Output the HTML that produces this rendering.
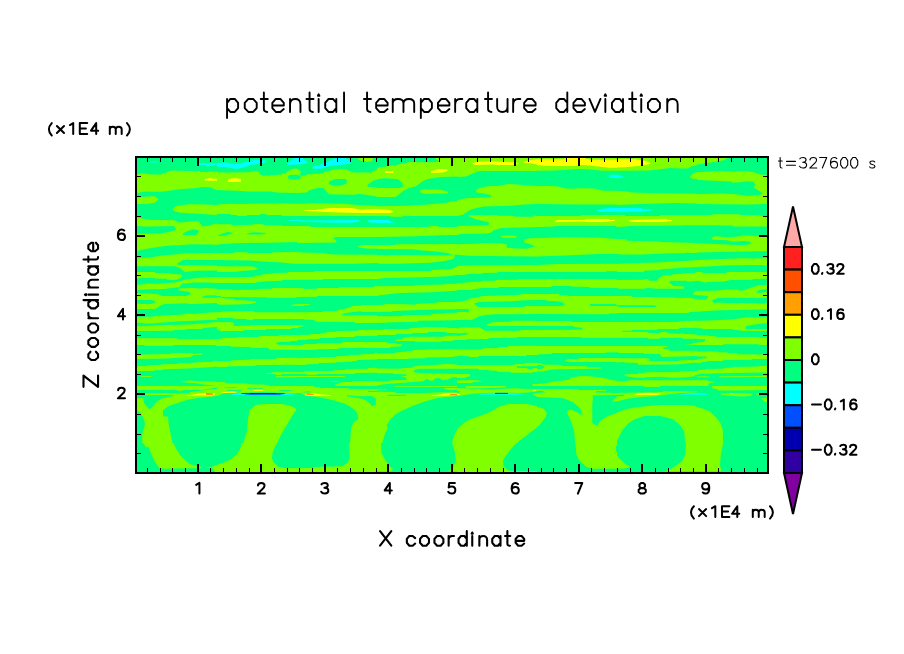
<!DOCTYPE html>
<html><head><meta charset="utf-8"><style>
html,body{margin:0;padding:0;background:#fff;width:904px;height:654px;overflow:hidden}
svg{display:block}
</style></head><body>
<svg width="904" height="654" viewBox="0 0 904 654">
<rect x="137" y="158" width="630" height="314" fill="#00ff80"/>
<svg x="137" y="158" width="630" height="314" viewBox="137 158 630 314" overflow="hidden"><defs>
<clipPath id="t00"><rect x="137" y="158" width="80" height="57"/></clipPath>
<clipPath id="t01"><rect x="217" y="158" width="80" height="57"/></clipPath>
<clipPath id="t02"><rect x="297" y="158" width="80" height="57"/></clipPath>
<clipPath id="t03"><rect x="377" y="158" width="80" height="57"/></clipPath>
<clipPath id="t04"><rect x="457" y="158" width="80" height="57"/></clipPath>
<clipPath id="t05"><rect x="537" y="158" width="80" height="57"/></clipPath>
<clipPath id="t06"><rect x="617" y="158" width="80" height="57"/></clipPath>
<clipPath id="t07"><rect x="697" y="158" width="80" height="57"/></clipPath>
<clipPath id="t10"><rect x="137" y="215" width="80" height="57"/></clipPath>
<clipPath id="t11"><rect x="217" y="215" width="80" height="57"/></clipPath>
<clipPath id="t12"><rect x="297" y="215" width="80" height="57"/></clipPath>
<clipPath id="t13"><rect x="377" y="215" width="80" height="57"/></clipPath>
<clipPath id="t14"><rect x="457" y="215" width="80" height="57"/></clipPath>
<clipPath id="t15"><rect x="537" y="215" width="80" height="57"/></clipPath>
<clipPath id="t16"><rect x="617" y="215" width="80" height="57"/></clipPath>
<clipPath id="t17"><rect x="697" y="215" width="80" height="57"/></clipPath>
<clipPath id="t20"><rect x="137" y="272" width="80" height="57"/></clipPath>
<clipPath id="t21"><rect x="217" y="272" width="80" height="57"/></clipPath>
<clipPath id="t22"><rect x="297" y="272" width="80" height="57"/></clipPath>
<clipPath id="t23"><rect x="377" y="272" width="80" height="57"/></clipPath>
<clipPath id="t24"><rect x="457" y="272" width="80" height="57"/></clipPath>
<clipPath id="t25"><rect x="537" y="272" width="80" height="57"/></clipPath>
<clipPath id="t26"><rect x="617" y="272" width="80" height="57"/></clipPath>
<clipPath id="t27"><rect x="697" y="272" width="80" height="57"/></clipPath>
<clipPath id="t30"><rect x="137" y="329" width="80" height="57"/></clipPath>
<clipPath id="t31"><rect x="217" y="329" width="80" height="57"/></clipPath>
<clipPath id="t32"><rect x="297" y="329" width="80" height="57"/></clipPath>
<clipPath id="t33"><rect x="377" y="329" width="80" height="57"/></clipPath>
<clipPath id="t34"><rect x="457" y="329" width="80" height="57"/></clipPath>
<clipPath id="t35"><rect x="537" y="329" width="80" height="57"/></clipPath>
<clipPath id="t36"><rect x="617" y="329" width="80" height="57"/></clipPath>
<clipPath id="t37"><rect x="697" y="329" width="80" height="57"/></clipPath>
<clipPath id="t40"><rect x="137" y="386" width="80" height="57"/></clipPath>
<clipPath id="t41"><rect x="217" y="386" width="80" height="57"/></clipPath>
<clipPath id="t42"><rect x="297" y="386" width="80" height="57"/></clipPath>
<clipPath id="t43"><rect x="377" y="386" width="80" height="57"/></clipPath>
<clipPath id="t44"><rect x="457" y="386" width="80" height="57"/></clipPath>
<clipPath id="t45"><rect x="537" y="386" width="80" height="57"/></clipPath>
<clipPath id="t46"><rect x="617" y="386" width="80" height="57"/></clipPath>
<clipPath id="t47"><rect x="697" y="386" width="80" height="57"/></clipPath>
<clipPath id="t50"><rect x="137" y="443" width="80" height="57"/></clipPath>
<clipPath id="t51"><rect x="217" y="443" width="80" height="57"/></clipPath>
<clipPath id="t52"><rect x="297" y="443" width="80" height="57"/></clipPath>
<clipPath id="t53"><rect x="377" y="443" width="80" height="57"/></clipPath>
<clipPath id="t54"><rect x="457" y="443" width="80" height="57"/></clipPath>
<clipPath id="t55"><rect x="537" y="443" width="80" height="57"/></clipPath>
<clipPath id="t56"><rect x="617" y="443" width="80" height="57"/></clipPath>
<clipPath id="t57"><rect x="697" y="443" width="80" height="57"/></clipPath>
</defs>
<g clip-path="url(#t00)"><rect x="137" y="158" width="80" height="57" fill="#00ff80"/><polygon points="137.0,174.4 142.3,173.2 145.0,173.5 151.2,174.6 160.9,174.4 167.1,172.2 169.7,171.1 174.2,170.4 176.8,170.8 198.9,171.3 200.7,171.9 217.0,171.7 217.0,189.9 214.9,189.4 210.5,187.2 202.5,187.0 196.3,188.1 179.5,189.2 170.6,190.6 163.5,191.6 155.6,191.8 147.6,191.6 142.3,192.1 137.0,193.0" fill="#80ff00"/><polygon points="204.3,179.2 207.8,178.5 210.5,178.0 213.1,178.8 217.0,178.8 217.0,180.8 205.1,180.8" fill="#ffff00"/><polygon points="149.4,162.0 152.9,161.2 157.8,161.2 157.8,162.4 150.3,162.6" fill="#00ffff"/><polygon points="194.1,163.3 198.9,163.1 206.0,163.5 212.2,163.1 217.0,162.9 217.0,164.6 212.2,165.5 206.9,166.8 206.0,165.1 198.9,165.1 196.3,164.6" fill="#00ffff"/><polygon points="137.0,197.4 151.2,196.2 154.7,196.2 158.7,199.2 154.7,202.7 147.6,203.8 137.0,204.0" fill="#80ff00"/><polygon points="172.4,209.3 175.1,206.5 180.4,205.3 190.1,204.2 198.9,204.2 217.0,204.9 217.0,215.0 198.9,213.8 180.4,212.7 175.1,211.5" fill="#80ff00"/></g>
<g clip-path="url(#t01)"><rect x="217" y="158" width="80" height="57" fill="#00ff80"/><polygon points="217.0,172.2 225.8,172.6 249.7,172.3 253.3,171.3 258.6,171.3 260.4,174.8 263.0,175.7 269.2,175.5 280.7,174.4 286.9,172.2 291.3,169.1 297.0,168.6 297.0,193.0 276.3,192.5 270.1,191.6 247.1,191.5 237.4,190.7 227.6,190.6 217.0,189.9" fill="#80ff00"/><polygon points="287.8,175.7 291.3,174.8 297.0,174.8 297.0,179.7 288.7,179.2" fill="#00ff80"/><polygon points="228.1,179.2 231.2,178.4 236.5,178.2 240.9,179.1 240.9,181.9 228.1,181.9" fill="#ffff00"/><polygon points="217.0,162.9 224.1,162.2 230.3,163.3 235.6,164.0 243.5,162.4 250.6,160.7 254.2,159.8 263.9,160.2 267.0,161.1 263.9,162.9 256.8,164.0 250.6,165.1 243.5,167.3 239.1,168.6 234.7,168.8 227.6,167.3 217.0,166.8" fill="#00ffff"/><polygon points="286.9,163.8 290.5,160.7 294.0,158.0 297.0,158.0 297.0,164.6 287.8,164.9" fill="#00ffff"/><polygon points="217.0,204.5 230.3,203.8 237.4,204.0 263.0,203.6 276.3,203.6 297.0,203.8 297.0,216.4 266.6,216.4 266.1,213.9 260.4,213.9 259.9,216.4 231.2,216.4 230.7,213.9 217.0,213.9" fill="#80ff00"/></g>
<g clip-path="url(#t02)"><rect x="297" y="158" width="80" height="57" fill="#00ff80"/><polygon points="297.0,158.0 302.3,158.0 306.7,161.5 307.6,162.9 302.3,164.2 297.0,164.6" fill="#00ffff"/><polygon points="312.9,166.4 319.1,165.1 326.2,162.0 332.4,159.3 335.9,158.0 344.8,158.0 350.1,160.7 351.0,163.8 339.5,164.9 331.5,165.8 324.4,167.6 321.8,168.8 312.9,168.8" fill="#00ffff"/><polygon points="358.1,158.0 373.1,158.0 372.2,160.7 367.8,162.0 361.6,161.1 358.9,159.8" fill="#80ff00"/><polygon points="297.0,168.6 301.0,171.7 299.7,174.8 302.3,176.1 307.6,174.4 320.0,173.5 328.0,171.3 335.9,169.3 344.8,169.3 353.6,172.6 371.3,172.6 377.0,169.1 377.0,196.9 374.0,196.1 362.5,194.3 358.9,194.1 353.6,194.7 328.9,194.3 323.5,188.1 317.4,188.1 309.4,190.3 306.7,192.5 297.0,193.0" fill="#80ff00"/><polygon points="297.0,174.8 301.4,176.1 299.2,179.2 297.0,179.7" fill="#00ff80"/><polygon points="328.9,181.9 332.4,180.1 335.9,179.1 345.7,179.1 347.0,181.0 346.1,183.7 341.2,185.4 332.4,185.4 328.9,184.1" fill="#00ff80"/><polygon points="366.9,185.4 371.3,181.9 374.9,180.1 377.0,179.7 377.0,187.2 367.8,186.8" fill="#00ff80"/><polygon points="297.0,204.0 313.8,203.3 326.2,203.3 346.6,204.0 358.9,204.9 377.0,205.8 377.0,215.0 297.0,215.0" fill="#80ff00"/><polygon points="304.1,210.4 317.4,209.8 320.0,209.2 329.7,208.0 351.9,208.0 360.7,209.8 377.0,208.9 377.0,213.0 360.7,213.0 338.6,212.4 317.4,211.6 304.1,211.1" fill="#ffff00"/></g>
<g clip-path="url(#t03)"><rect x="377" y="158" width="80" height="57" fill="#80ff00"/><polygon points="377.0,158.0 435.4,158.0 438.9,162.0 424.8,162.2 410.6,162.0 403.5,163.3 396.5,165.1 385.8,166.4 377.0,167.7" fill="#00ff80"/><polygon points="385.0,171.3 393.8,171.1 392.9,172.9 385.0,172.9" fill="#ffff00"/><polygon points="431.0,171.3 438.1,169.3 446.9,169.1 447.8,170.8 442.5,172.6 431.0,172.9" fill="#ffff00"/><polygon points="377.0,179.2 384.1,178.2 392.9,178.8 398.2,179.2 402.7,183.2 402.7,186.8 400.0,188.1 377.0,188.1" fill="#00ff80"/><polygon points="377.0,196.9 395.6,196.9 403.5,190.7 408.9,188.1 415.9,186.3 421.2,182.3 426.6,179.2 440.7,177.0 457.0,176.6 457.0,201.4 452.2,201.4 444.3,203.1 428.3,204.5 408.9,205.8 377.0,206.2" fill="#00ff80"/><polygon points="420.4,190.3 424.8,189.2 437.2,189.2 444.3,190.7 448.7,192.1 446.9,193.4 423.9,193.8 420.4,192.5" fill="#80ff00"/><polygon points="377.0,209.2 379.7,209.3 390.3,210.2 393.8,211.5 390.3,212.9 377.0,212.9" fill="#ffff00"/></g>
<g clip-path="url(#t04)"><rect x="457" y="158" width="80" height="57" fill="#80ff00"/><polygon points="472.0,163.3 477.4,161.7 492.4,161.4 497.7,161.5 514.5,162.2 519.8,163.3 514.5,164.9 497.7,164.9 492.4,164.4 474.7,164.9" fill="#ffff00"/><polygon points="524.3,161.4 530.5,160.2 537.0,158.9 537.0,164.6 530.5,163.3 524.3,162.9" fill="#ffff00"/><polygon points="457.0,177.0 465.8,176.6 470.3,174.4 479.1,171.1 537.0,171.1 537.0,185.9 527.8,185.6 517.2,184.5 508.3,184.1 497.7,185.9 488.9,186.1 479.1,188.1 476.0,190.7 476.5,192.5 483.5,193.4 491.1,195.2 490.6,196.9 485.3,197.4 465.8,198.3 457.0,200.0" fill="#00ff80"/><polygon points="457.0,215.0 462.3,215.0 471.2,209.2 483.5,206.5 510.1,205.8 524.3,204.5 537.0,204.0 537.0,215.0" fill="#00ff80"/></g>
<g clip-path="url(#t05)"><rect x="537" y="158" width="80" height="57" fill="#00ff80"/><polygon points="537.0,158.0 617.0,158.0 617.0,170.8 603.4,170.8 590.1,169.5 577.7,169.1 554.7,170.4 537.0,170.8" fill="#80ff00"/><polygon points="537.0,158.9 563.5,158.9 568.0,158.0 584.8,158.0 586.6,158.9 594.5,159.8 617.0,159.8 617.0,167.7 609.6,167.7 600.7,166.8 590.1,165.5 581.2,165.1 574.2,166.1 545.8,166.0 537.0,164.9" fill="#ffff00"/><polygon points="608.7,176.1 610.5,174.8 617.0,174.8 617.0,177.9 609.6,177.9" fill="#00ffff"/><polygon points="537.0,186.1 554.7,186.1 568.0,188.8 581.2,188.3 593.6,188.5 603.4,190.7 617.0,190.7 617.0,204.5 582.1,204.5 537.0,204.0" fill="#80ff00"/><polygon points="597.2,210.2 600.7,208.9 609.6,208.0 617.0,208.0 617.0,211.8 598.1,211.8" fill="#00ffff"/></g>
<g clip-path="url(#t06)"><rect x="617" y="158" width="80" height="57" fill="#00ff80"/><polygon points="617.0,158.0 697.0,158.0 697.0,165.1 691.3,166.4 687.8,168.6 682.5,168.6 670.1,167.9 659.5,169.3 648.0,170.4 617.0,170.8" fill="#80ff00"/><polygon points="617.0,158.9 634.7,158.9 646.2,161.1 650.6,163.3 648.0,164.6 638.2,166.0 625.0,167.3 617.0,167.6" fill="#ffff00"/><polygon points="617.0,174.8 618.8,175.3 623.2,176.4 623.6,177.6 617.0,177.9" fill="#00ffff"/><polygon points="690.0,176.6 693.1,173.5 695.8,172.2 697.0,172.0 697.0,178.8 692.2,178.8" fill="#80ff00"/><polygon points="617.0,190.9 625.0,191.2 632.0,192.5 659.5,193.2 697.0,193.8 697.0,203.6 673.6,203.1 640.0,204.0 617.0,204.9" fill="#80ff00"/><polygon points="617.0,208.0 640.9,208.0 641.8,209.2 652.0,209.2 650.6,210.7 640.9,211.8 617.0,211.8" fill="#00ffff"/></g>
<g clip-path="url(#t07)"><rect x="697" y="158" width="80" height="57" fill="#00ff80"/><polygon points="697.0,158.0 727.1,158.0 723.5,160.2 714.7,162.0 705.8,163.3 697.0,164.6" fill="#80ff00"/><polygon points="697.0,172.2 718.2,171.3 727.1,171.7 746.6,171.3 753.6,172.2 760.7,174.4 767.8,175.3 767.8,204.0 749.2,204.5 697.0,204.0" fill="#80ff00"/><polygon points="697.0,179.7 707.6,180.6 730.6,181.5 733.3,182.8 739.5,182.3 746.6,181.2 753.6,181.7 755.4,184.5 753.6,187.6 758.9,190.7 762.9,193.4 758.9,195.2 746.6,195.9 736.8,194.3 721.8,193.4 697.0,194.3" fill="#00ff80"/><polygon points="711.2,215.0 712.9,214.2 739.5,214.2 740.4,215.0" fill="#80ff00"/></g>
<g clip-path="url(#t10)"><rect x="137" y="215" width="80" height="57" fill="#00ff80"/><polygon points="137.0,217.7 145.0,219.0 151.2,219.9 174.2,220.3 178.6,222.5 186.6,222.1 193.6,221.2 198.9,221.6 201.2,224.7 202.5,226.5 206.9,226.1 214.9,223.8 217.0,223.4 217.0,245.1 212.2,244.6 191.9,244.2 183.0,245.1 170.6,245.5 160.9,246.4 150.3,248.2 145.0,249.1 140.5,250.0 137.0,251.3" fill="#80ff00"/><polygon points="137.0,226.1 145.0,226.5 163.5,226.3 174.2,226.1 175.9,228.7 174.2,230.5 170.6,231.6 160.9,233.6 137.0,234.0" fill="#00ff80"/><polygon points="183.0,233.6 186.6,231.4 193.6,229.2 198.9,230.5 198.1,232.7 195.4,234.9 183.0,234.9" fill="#00ff80"/><polygon points="137.0,258.4 150.3,257.5 163.5,255.3 174.2,254.4 186.6,253.2 217.0,253.1 217.0,270.6 195.4,270.8 184.8,272.0 179.5,267.7 174.2,266.2 137.0,266.2" fill="#80ff00"/><polygon points="176.8,263.7 183.0,260.1 217.0,260.1 217.0,265.6 178.6,265.0" fill="#00ff80"/></g>
<g clip-path="url(#t11)"><rect x="217" y="215" width="80" height="57" fill="#00ff80"/><polygon points="237.4,215.0 247.1,215.0 247.1,215.9 237.4,215.9" fill="#80ff00"/><polygon points="282.0,215.0 297.0,215.0 297.0,215.9 282.0,215.9" fill="#80ff00"/><polygon points="289.1,220.1 297.0,220.1 297.0,221.0 289.1,221.0" fill="#00ffff"/><polygon points="217.0,224.3 231.2,224.3 232.0,225.2 253.3,224.7 254.2,224.0 263.0,224.3 263.9,225.2 281.6,225.4 282.5,226.1 297.0,226.1 297.0,242.0 278.9,242.4 234.7,243.3 217.0,244.6" fill="#80ff00"/><polygon points="217.9,235.5 221.0,234.0 224.1,233.1 228.5,231.8 233.8,233.4 228.5,234.6 225.0,235.8 217.9,236.1" fill="#00ff80"/><polygon points="246.2,233.6 249.7,233.1 253.3,232.3 259.5,232.5 266.1,233.1 265.7,234.0 259.5,234.5 249.7,234.6 246.2,234.0" fill="#00ff80"/><polygon points="217.0,253.1 233.8,252.9 234.7,252.2 247.1,252.2 248.0,253.1 271.9,253.1 272.8,252.2 297.0,252.0 297.0,263.7 291.3,263.5 282.5,262.6 263.0,261.5 250.6,260.6 217.0,260.1" fill="#80ff00"/><polygon points="217.0,266.2 252.4,266.2 256.4,267.7 257.7,268.5 255.1,270.0 240.9,270.9 234.7,272.0 217.0,272.0" fill="#80ff00"/></g>
<g clip-path="url(#t12)"><rect x="297" y="215" width="80" height="57" fill="#00ff80"/><polygon points="297.0,215.0 377.0,215.0 377.0,215.9 297.0,215.9" fill="#80ff00"/><polygon points="297.0,220.1 306.7,220.5 335.9,220.3 358.9,220.1 359.8,221.4 351.9,222.8 335.9,222.8 306.7,221.9 297.0,221.0" fill="#00ffff"/><polygon points="366.9,221.4 368.7,220.1 377.0,220.1 377.0,222.8 371.3,222.8" fill="#00ffff"/><polygon points="297.0,226.1 310.3,226.3 311.2,226.9 377.0,226.9 377.0,236.9 335.9,236.9 333.3,238.2 336.8,241.4 335.9,242.6 297.0,242.9" fill="#80ff00"/><polygon points="358.1,246.4 361.6,245.1 377.0,245.1 377.0,248.6 368.7,248.8 359.8,247.7" fill="#80ff00"/><polygon points="297.0,252.3 320.0,253.1 333.3,254.4 377.0,254.8 377.0,263.0 351.9,263.7 297.0,263.8" fill="#80ff00"/><polygon points="314.3,272.0 314.7,270.9 377.0,270.9 377.0,272.0" fill="#80ff00"/></g>
<g clip-path="url(#t13)"><rect x="377" y="215" width="80" height="57" fill="#00ff80"/><polygon points="377.0,215.0 457.0,215.0 457.0,215.9 402.7,215.9 402.7,216.8 390.3,216.8 390.3,215.9 377.0,215.9" fill="#80ff00"/><polygon points="377.0,220.1 388.5,220.1 390.3,221.6 392.9,222.1 392.9,223.0 377.0,223.0" fill="#00ffff"/><polygon points="377.0,226.9 428.3,226.9 429.2,226.1 438.1,226.1 438.9,226.9 457.0,226.9 457.0,234.9 440.7,235.2 415.1,236.2 377.0,236.9" fill="#80ff00"/><polygon points="377.0,245.1 396.0,245.1 396.5,244.2 457.0,244.0 457.0,254.4 454.9,254.8 454.0,258.4 450.5,259.7 444.3,261.0 431.0,262.8 395.6,263.7 380.5,263.7 377.0,263.2" fill="#80ff00"/><polygon points="377.0,249.1 412.4,249.3 422.1,250.4 435.4,251.5 447.8,252.9 453.1,255.3 431.0,255.3 377.0,255.0" fill="#00ff80"/><polygon points="377.0,270.9 431.0,270.9 431.9,269.9 450.5,269.2 457.0,266.8 457.0,272.0 377.0,272.0" fill="#80ff00"/></g>
<g clip-path="url(#t14)"><rect x="457" y="215" width="80" height="57" fill="#00ff80"/><polygon points="468.5,215.0 497.7,215.0 497.7,215.7 514.5,215.9 514.5,216.8 533.1,216.8 533.1,215.7 537.0,215.7 537.0,226.9 519.8,227.4 501.2,228.1 494.2,230.0 490.6,232.7 485.3,233.4 460.5,234.0 457.0,234.9 457.0,226.1 485.3,225.6 488.9,224.7 488.9,222.5 485.3,221.6 476.5,219.4 469.4,216.8" fill="#80ff00"/><polygon points="457.0,215.0 459.7,215.0 459.7,215.7 457.0,215.7" fill="#80ff00"/><polygon points="499.9,236.4 503.9,235.5 511.0,235.4 517.2,236.4 515.4,237.8 503.9,237.8" fill="#80ff00"/><polygon points="457.0,244.2 479.1,243.8 480.0,243.1 501.2,243.3 506.6,244.6 506.6,247.7 514.5,248.6 526.9,248.8 534.9,246.4 530.5,244.2 524.3,242.4 524.3,239.3 530.5,238.2 537.0,238.0 537.0,256.6 511.0,256.2 469.4,255.7 457.0,254.8" fill="#80ff00"/><polygon points="457.0,265.9 469.4,265.4 537.0,265.0 537.0,272.0 457.0,272.0" fill="#80ff00"/></g>
<g clip-path="url(#t15)"><rect x="537" y="215" width="80" height="57" fill="#80ff00"/><polygon points="537.0,215.0 581.2,215.0 580.4,215.9 537.0,215.9" fill="#00ff80"/><polygon points="555.1,221.0 557.4,220.1 583.9,220.1 586.6,219.2 608.7,219.0 609.6,220.1 614.9,220.1 614.9,221.0 602.9,221.9 586.6,221.9 583.9,221.4 555.1,221.9" fill="#ffff00"/><polygon points="537.0,226.9 555.1,226.5 555.6,226.1 615.8,226.1 617.0,226.9 617.0,238.9 613.1,238.7 599.8,237.8 562.7,237.3 537.0,238.2" fill="#00ff80"/><polygon points="537.0,256.6 543.2,256.2 571.1,255.3 597.2,254.1 617.0,253.9 617.0,263.7 559.1,264.1 537.0,265.0" fill="#00ff80"/><polygon points="606.0,271.2 617.0,271.2 617.0,272.0 606.0,272.0" fill="#00ff80"/></g>
<g clip-path="url(#t16)"><rect x="617" y="215" width="80" height="57" fill="#80ff00"/><polygon points="625.0,215.0 660.4,215.0 659.5,215.9 625.0,215.9" fill="#00ff80"/><polygon points="628.9,220.5 632.0,220.1 654.2,219.4 666.6,219.0 667.4,220.1 671.9,220.1 671.9,221.0 663.0,221.9 632.0,221.9 628.9,221.0" fill="#ffff00"/><polygon points="617.0,226.9 627.6,226.5 628.1,226.1 682.9,225.6 683.4,225.2 697.0,225.2 697.0,243.1 678.9,242.6 660.4,242.0 659.5,241.4 626.7,240.8 625.8,239.3 617.0,238.9" fill="#00ff80"/><polygon points="617.0,253.9 622.3,254.4 640.9,254.4 670.1,253.2 686.0,252.9 687.8,252.2 689.1,252.9 697.0,252.9 697.0,260.1 692.2,260.6 672.8,261.5 657.3,262.6 625.4,263.2 617.0,264.1" fill="#00ff80"/><polygon points="643.5,272.0 644.0,270.8 659.5,269.9 660.4,269.2 672.8,268.5 683.4,267.4 697.0,267.0 697.0,272.0" fill="#00ff80"/></g>
<g clip-path="url(#t17)"><rect x="697" y="215" width="80" height="57" fill="#80ff00"/><polygon points="758.9,215.0 767.8,215.0 767.8,216.8 762.5,216.3" fill="#00ff80"/><polygon points="697.0,225.2 718.2,225.2 723.5,225.6 732.4,225.4 733.3,226.5 767.8,226.5 767.8,236.2 758.9,236.2 750.1,235.8 743.0,235.5 736.8,236.7 727.1,236.9 714.7,236.2 711.2,238.0 712.9,239.8 727.1,240.2 730.6,241.5 736.8,241.5 743.0,241.1 749.2,241.5 751.9,243.3 745.7,244.9 737.7,245.1 711.2,243.8 697.0,243.1" fill="#00ff80"/><polygon points="697.0,252.6 755.4,251.3 767.8,251.1 767.8,258.2 756.3,258.4 742.1,258.2 714.7,259.2 697.0,260.1" fill="#00ff80"/><polygon points="697.0,272.0 697.0,267.0 711.2,266.3 729.7,265.3 761.6,265.0 767.8,265.9 767.8,272.0" fill="#00ff80"/></g>
<g clip-path="url(#t20)"><rect x="137" y="272" width="80" height="57" fill="#00ff80"/><polygon points="137.0,272.0 155.0,272.0 155.0,272.9 171.1,273.2 171.1,273.9 181.0,274.4 181.9,275.7 181.6,277.3 179.7,278.2 176.6,279.8 167.4,280.0 166.7,278.8 155.0,278.5 154.3,277.9 138.9,277.9 138.2,278.8 137.0,278.8" fill="#80ff00"/><polygon points="137.0,285.0 142.0,284.4 148.2,283.5 155.0,283.8 167.4,283.2 175.4,282.2 182.8,280.4 186.6,279.3 193.6,278.4 202.5,277.5 214.9,277.1 217.0,276.9 217.0,283.1 206.9,282.6 193.6,282.4 185.9,283.5 182.8,283.2 180.4,285.6 179.7,286.9 171.7,288.1 164.3,289.1 158.1,289.3 148.2,289.3 137.0,290.0" fill="#80ff00"/><polygon points="137.0,293.7 138.9,293.1 158.1,294.3 161.8,295.9 185.9,295.9 190.9,294.3 189.0,291.8 185.9,291.5 180.4,290.6 177.9,290.2 177.3,289.7 180.4,288.2 193.0,288.0 198.9,288.4 206.0,288.1 217.0,288.8 217.0,303.0 193.0,303.9 190.3,303.9 185.9,303.3 164.3,303.9 160.5,305.5 158.1,307.3 155.0,308.9 137.0,308.9" fill="#80ff00"/><polygon points="137.0,299.9 151.0,300.1 155.0,301.1 155.0,302.7 150.6,303.9 138.9,303.9 137.0,303.3" fill="#00ff80"/><polygon points="202.0,296.8 206.0,295.5 214.9,295.2 217.0,295.9 217.0,297.7 212.2,297.8 202.5,297.8" fill="#00ff80"/><polygon points="137.0,317.1 150.3,316.7 163.5,315.4 183.0,314.5 186.6,313.4 194.5,314.0 206.0,312.7 217.0,312.3 217.0,319.8 202.5,320.2 193.6,320.7 176.8,321.6 163.5,322.4 154.7,323.3 145.0,323.5 139.7,322.6 137.0,322.9" fill="#80ff00"/><polygon points="137.0,326.0 145.8,326.2 163.5,325.1 177.7,324.7 193.6,324.2 202.5,323.3 212.2,322.6 217.0,322.0 217.0,326.9 202.5,327.9 202.5,329.0 137.0,329.0" fill="#80ff00"/></g>
<g clip-path="url(#t21)"><rect x="217" y="272" width="80" height="57" fill="#00ff80"/><polygon points="217.0,277.1 253.3,276.9 253.3,276.0 260.4,275.5 263.0,274.2 271.9,273.8 272.8,272.9 287.8,272.7 288.7,272.0 297.0,272.0 297.0,279.8 282.5,280.1 281.6,280.8 266.1,281.3 256.8,282.2 255.9,283.1 217.0,283.1" fill="#80ff00"/><polygon points="217.0,289.3 231.2,289.3 231.6,290.1 255.9,289.7 256.8,289.0 271.9,288.8 272.8,288.1 297.0,287.9 297.0,297.2 294.9,297.7 266.6,297.8 265.7,297.2 221.4,297.0 220.5,296.1 217.0,295.9" fill="#80ff00"/><polygon points="217.0,297.2 220.5,297.5 225.0,298.5 233.8,299.0 234.7,300.1 247.1,300.5 255.9,301.2 255.9,302.8 249.7,303.9 233.8,304.6 221.4,304.7 217.0,304.0" fill="#80ff00"/><polygon points="291.3,305.2 294.9,304.3 297.0,304.0 297.0,306.1 291.3,306.1" fill="#80ff00"/><polygon points="217.0,312.3 225.0,311.4 253.3,311.1 254.2,312.3 297.0,312.3 297.0,318.9 253.3,318.9 252.4,320.0 247.1,319.8 246.2,319.1 233.8,318.7 232.9,318.0 217.0,317.8" fill="#80ff00"/><polygon points="217.0,322.0 232.9,322.3 233.8,323.8 233.8,326.0 249.7,325.5 250.6,324.9 297.0,324.9 297.0,327.9 291.3,327.9 291.3,329.0 217.0,329.0" fill="#80ff00"/></g>
<g clip-path="url(#t22)"><rect x="297" y="272" width="80" height="57" fill="#00ff80"/><polygon points="297.0,272.0 377.0,272.0 377.0,278.9 323.5,278.9 322.7,279.8 297.0,279.8" fill="#80ff00"/><polygon points="297.0,287.9 304.1,288.4 304.1,289.0 317.4,288.8 317.4,288.1 339.0,287.9 339.5,287.2 374.0,286.9 374.9,286.0 377.0,285.7 377.0,295.9 317.4,296.1 316.9,296.8 297.0,297.0" fill="#80ff00"/><polygon points="297.0,304.3 309.4,304.0 309.8,304.9 304.1,305.2 303.6,306.1 297.0,306.1" fill="#80ff00"/><polygon points="297.0,312.3 322.7,312.0 323.5,311.1 335.9,310.9 339.5,309.6 344.8,308.7 349.2,307.4 352.8,306.1 360.7,305.8 361.6,304.9 377.0,304.9 377.0,322.9 355.4,322.9 354.5,322.0 316.5,321.7 314.7,320.5 312.9,319.8 304.1,319.6 303.2,318.9 297.0,318.9" fill="#80ff00"/><polygon points="342.1,314.5 344.8,313.2 349.2,312.5 358.1,311.4 360.7,310.9 361.6,312.0 377.0,312.0 377.0,315.2 342.1,315.2" fill="#00ff80"/><polygon points="297.0,325.5 300.5,325.3 304.1,325.1 303.6,326.0 298.8,327.3 297.0,328.6" fill="#80ff00"/></g>
<g clip-path="url(#t23)"><rect x="377" y="272" width="80" height="57" fill="#00ff80"/><polygon points="377.0,272.0 457.0,272.0 457.0,275.1 454.0,275.4 446.9,276.2 431.0,277.1 384.1,278.0 377.0,278.9" fill="#80ff00"/><polygon points="377.0,286.2 415.1,285.7 415.9,285.1 444.3,284.6 445.1,283.9 457.0,283.7 457.0,290.8 446.9,291.3 431.0,292.2 400.0,293.1 390.3,294.1 379.7,295.2 377.0,295.9" fill="#80ff00"/><polygon points="377.0,304.9 384.1,304.7 385.0,304.0 406.2,304.3 415.1,304.7 415.9,304.0 428.3,303.2 438.1,302.5 438.9,302.1 457.0,302.1 457.0,309.2 434.5,309.6 412.4,310.2 392.9,310.9 392.0,311.8 377.0,312.0" fill="#80ff00"/><polygon points="377.0,316.2 402.7,316.1 403.5,315.2 431.0,314.7 431.9,314.0 444.3,313.4 445.1,312.9 457.0,312.7 457.0,319.8 454.0,320.2 418.6,320.8 417.7,321.7 395.6,322.3 377.0,322.9" fill="#80ff00"/><polygon points="408.9,329.0 409.3,328.2 422.1,327.6 423.0,327.0 446.9,327.3 447.8,327.9 457.0,327.9 457.0,329.0" fill="#80ff00"/></g>
<g clip-path="url(#t24)"><rect x="457" y="272" width="80" height="57" fill="#00ff80"/><polygon points="457.0,272.0 497.7,272.0 497.7,272.7 481.8,273.1 481.8,273.8 466.7,273.9 466.7,274.8 457.0,275.1" fill="#80ff00"/><polygon points="457.0,283.1 467.6,282.6 468.5,282.2 481.8,281.6 482.7,280.8 495.1,280.7 495.9,280.0 517.2,279.8 518.1,278.9 537.0,278.9 537.0,286.9 498.6,287.0 497.7,287.9 481.8,288.1 472.9,289.3 472.0,289.9 457.0,290.1" fill="#80ff00"/><polygon points="457.0,302.1 461.4,301.2 465.8,300.8 470.3,298.5 476.5,297.7 482.7,296.1 504.8,295.5 520.7,294.8 521.6,293.9 537.0,293.9 537.0,300.1 524.3,300.3 511.9,301.2 479.1,302.1 473.8,303.4 478.2,307.0 524.3,307.0 525.1,306.1 537.0,306.1 537.0,314.0 495.1,314.3 485.3,314.9 479.1,316.2 474.7,318.5 472.0,319.8 457.0,320.0" fill="#80ff00"/><polygon points="457.0,309.0 468.9,309.0 468.9,312.0 457.0,312.0" fill="#00ff80"/><polygon points="486.2,324.7 489.7,323.2 492.4,322.3 511.0,321.7 511.9,320.8 537.0,320.7 537.0,326.0 488.0,326.0" fill="#80ff00"/><polygon points="457.0,329.0 460.5,327.6 479.1,327.3 481.8,329.0" fill="#80ff00"/></g>
<g clip-path="url(#t25)"><rect x="537" y="272" width="80" height="57" fill="#00ff80"/><polygon points="537.0,279.1 615.8,278.9 617.0,279.8 617.0,287.9 590.1,287.8 589.2,286.9 571.5,286.6 570.6,286.0 552.0,286.0 551.2,286.9 537.0,286.9" fill="#80ff00"/><polygon points="537.0,294.1 558.7,294.1 559.6,295.2 568.0,295.2 568.9,295.9 617.0,295.9 617.0,313.6 609.1,313.4 608.7,314.3 537.0,314.0" fill="#80ff00"/><polygon points="537.0,300.1 545.8,300.1 546.7,300.8 558.2,301.2 562.7,302.5 564.9,304.6 562.7,305.5 561.8,306.1 537.0,306.1" fill="#00ff80"/><polygon points="590.1,304.0 615.8,304.0 617.0,304.9 617.0,306.1 590.1,306.1" fill="#00ff80"/><polygon points="537.0,321.1 570.6,321.1 571.5,322.0 617.0,322.0 617.0,329.0 583.0,329.0 582.1,327.8 574.2,326.9 573.3,326.0 537.0,326.0" fill="#80ff00"/></g>
<g clip-path="url(#t26)"><rect x="617" y="272" width="80" height="57" fill="#00ff80"/><polygon points="617.0,280.0 643.5,279.8 644.4,279.1 648.0,279.1 649.3,280.8 656.8,280.8 658.6,278.2 663.0,275.5 671.9,275.1 672.8,274.2 683.4,273.8 684.3,273.1 694.9,272.9 695.8,272.0 697.0,272.0 697.0,280.8 692.2,281.6 686.9,281.6 686.0,280.8 670.1,280.8 669.2,282.6 673.6,286.0 682.5,286.2 684.7,287.8 683.4,288.8 673.6,288.8 656.8,288.8 648.0,287.9 643.5,288.8 618.8,288.8 617.0,287.9" fill="#80ff00"/><polygon points="693.1,294.1 694.9,291.5 697.0,290.8 697.0,294.8 693.1,294.8" fill="#80ff00"/><polygon points="617.0,296.1 631.6,296.1 632.5,297.0 672.8,297.2 673.6,297.8 692.2,298.1 693.1,298.7 697.0,298.7 697.0,311.8 689.1,312.0 688.7,312.9 617.0,312.9" fill="#80ff00"/><polygon points="617.0,305.2 653.3,305.2 656.8,306.1 655.9,307.0 618.8,307.0 617.0,306.1" fill="#00ff80"/><polygon points="617.0,322.0 678.9,322.0 679.8,321.1 697.0,320.8 697.0,327.8 679.4,327.9 678.9,329.0 617.0,329.0" fill="#80ff00"/></g>
<g clip-path="url(#t27)"><rect x="697" y="272" width="80" height="57" fill="#80ff00"/><polygon points="702.3,272.0 727.1,272.0 726.2,272.9 702.3,272.9" fill="#00ff80"/><polygon points="697.0,280.8 700.5,281.3 705.0,282.8 706.7,281.9 723.5,281.6 730.6,280.1 751.9,279.8 753.6,279.1 767.8,278.6 767.8,284.8 758.9,285.3 750.1,287.9 743.9,290.6 739.5,290.8 738.6,289.7 727.1,289.5 718.2,290.6 697.0,291.0" fill="#00ff80"/><polygon points="756.3,292.4 758.9,290.1 767.8,289.0 767.8,291.9 762.5,292.5 757.2,293.1" fill="#00ff80"/><polygon points="697.0,295.2 702.3,295.5 707.6,296.1 708.1,298.1 705.0,299.4 697.0,299.6" fill="#00ff80"/><polygon points="712.0,300.8 714.7,299.0 718.2,298.1 727.1,297.8 756.3,298.1 767.8,297.5 767.8,302.5 762.5,303.7 756.3,303.2 727.1,303.0 718.2,302.5 713.8,303.0" fill="#00ff80"/><polygon points="697.0,311.8 705.0,310.9 720.9,310.2 760.7,309.6 767.8,309.2 767.8,317.1 746.6,317.3 739.5,318.5 727.1,319.8 708.5,320.5 697.0,320.8" fill="#00ff80"/><polygon points="745.7,326.4 748.3,325.5 756.3,324.2 765.1,323.2 767.8,322.9 767.8,329.0 745.7,329.0" fill="#00ff80"/><polygon points="697.0,328.2 702.3,328.2 702.3,329.0 697.0,329.0" fill="#00ff80"/></g>
<g clip-path="url(#t30)"><rect x="137" y="329" width="80" height="57" fill="#00ff80"/><polygon points="137.0,329.0 185.7,329.0 185.7,329.7 174.2,329.9 173.3,330.8 137.0,330.9" fill="#80ff00"/><polygon points="137.0,338.3 176.8,338.3 177.7,339.2 217.0,339.2 217.0,345.8 214.9,344.9 174.2,344.9 173.3,345.8 145.0,345.8 144.1,345.1 137.0,345.1" fill="#80ff00"/><polygon points="137.0,354.7 170.6,354.0 171.5,353.1 191.9,352.9 193.6,354.2 198.9,353.8 199.8,353.1 202.0,353.1 202.0,354.7 193.6,355.1 190.1,356.9 183.0,357.5 167.1,358.6 137.0,358.9" fill="#80ff00"/><polygon points="137.0,366.3 147.6,366.0 148.5,365.3 160.9,364.8 161.8,364.2 177.7,364.0 178.6,363.1 195.4,362.8 196.3,362.2 212.2,361.9 213.1,361.0 217.0,360.9 217.0,366.6 212.2,367.1 188.3,368.4 163.5,369.3 162.7,369.9 154.7,370.2 153.8,371.0 137.0,371.0" fill="#80ff00"/><polygon points="140.5,375.9 151.2,376.1 151.2,377.0 140.5,376.8" fill="#80ff00"/><polygon points="180.4,381.7 186.6,380.8 190.1,380.2 196.3,381.2 214.9,381.4 217.0,381.7 217.0,386.0 206.0,384.8 196.3,383.2 180.4,382.1" fill="#80ff00"/></g>
<g clip-path="url(#t31)"><rect x="217" y="329" width="80" height="57" fill="#00ff80"/><polygon points="217.0,329.0 265.7,329.0 265.7,329.9 243.5,330.1 243.5,330.9 219.7,330.9 219.7,330.1 217.0,329.9" fill="#80ff00"/><polygon points="217.0,338.9 221.0,338.9 221.4,338.0 236.9,337.8 237.4,337.1 259.0,337.0 259.5,336.1 278.9,335.9 279.8,335.0 297.0,335.0 297.0,349.8 269.2,349.8 268.3,348.0 250.6,347.8 249.7,346.9 231.2,346.7 230.3,346.0 217.0,346.0" fill="#80ff00"/><polygon points="275.8,343.2 278.9,342.1 290.5,341.8 291.3,340.9 297.0,340.9 297.0,344.9 278.1,344.8" fill="#00ff80"/><polygon points="217.0,361.3 231.2,360.9 231.6,360.2 249.7,359.8 250.6,359.1 275.4,358.9 276.3,358.0 297.0,357.8 297.0,364.8 255.9,365.1 255.1,366.0 227.6,366.2 227.6,367.1 217.0,367.1" fill="#80ff00"/><polygon points="266.1,373.2 271.9,372.8 272.8,372.2 297.0,371.9 297.0,374.1 281.6,374.1 281.6,375.0 276.3,375.0 275.4,374.0 266.1,374.0" fill="#80ff00"/><polygon points="275.8,376.3 297.0,376.1 297.0,377.2 275.8,377.2" fill="#80ff00"/><polygon points="217.0,382.1 225.0,382.1 225.4,383.2 247.1,383.4 247.5,384.3 263.0,384.6 269.2,385.5 269.2,386.0 217.0,386.0" fill="#80ff00"/></g>
<g clip-path="url(#t32)"><rect x="297" y="329" width="80" height="57" fill="#00ff80"/><polygon points="297.0,335.0 310.3,334.8 310.7,334.1 320.0,333.9 320.5,333.0 326.2,332.7 326.6,332.1 335.9,331.8 336.4,330.9 358.1,330.8 358.9,329.9 377.0,329.7 377.0,335.9 355.4,336.1 354.5,337.0 335.9,337.1 335.1,337.8 320.0,338.0 319.1,338.9 307.2,339.2 306.7,339.8 297.9,340.1 297.0,340.9" fill="#80ff00"/><polygon points="297.0,345.1 302.8,344.9 303.2,344.2 316.9,344.0 317.4,343.2 341.7,343.0 342.1,342.1 377.0,342.1 377.0,347.8 339.0,348.0 338.6,348.9 316.9,349.2 316.5,349.8 297.0,350.1" fill="#80ff00"/><polygon points="297.0,358.2 319.6,357.8 320.0,357.1 335.9,356.9 336.4,356.3 349.2,355.7 349.7,355.1 360.7,354.8 361.6,354.2 374.0,354.0 374.9,352.9 377.0,352.7 377.0,359.5 357.2,360.0 356.3,360.9 351.9,361.0 351.4,361.7 335.9,362.2 335.1,362.8 319.1,363.1 318.2,364.0 306.7,364.2 306.3,364.8 297.0,365.1" fill="#80ff00"/><polygon points="297.0,372.2 304.1,371.9 304.5,371.3 332.8,371.0 333.3,370.2 345.2,369.9 345.7,369.0 367.8,368.8 368.7,367.9 377.0,367.8 377.0,372.8 355.0,373.1 354.5,374.0 317.4,374.1 316.9,374.8 307.2,374.8 306.7,374.1 297.0,374.1" fill="#80ff00"/><polygon points="297.0,376.1 344.8,376.1 344.8,377.0 297.0,377.0" fill="#80ff00"/><polygon points="331.1,381.2 338.6,381.2 339.0,381.9 331.1,381.9" fill="#80ff00"/><polygon points="335.1,384.8 339.5,383.2 342.1,382.1 351.9,381.9 352.8,381.0 377.0,381.0 377.0,386.0 335.9,386.0" fill="#80ff00"/></g>
<g clip-path="url(#t33)"><rect x="377" y="329" width="80" height="57" fill="#00ff80"/><polygon points="377.0,329.9 384.1,329.7 384.5,329.0 457.0,329.0 457.0,333.0 446.9,333.0 446.0,332.1 428.3,332.1 427.4,333.0 412.4,333.0 411.5,333.9 396.0,334.1 395.6,335.0 377.0,335.0" fill="#80ff00"/><polygon points="395.1,340.5 396.5,339.4 402.2,338.9 402.7,338.0 409.3,337.1 409.7,336.8 444.3,336.8 445.1,335.9 457.0,335.6 457.0,340.1 454.0,340.1 453.1,340.7 441.2,341.2 440.7,341.8 415.1,341.8 414.6,340.9 395.6,340.9" fill="#80ff00"/><polygon points="377.0,342.1 386.7,342.1 387.2,343.0 396.0,343.2 396.5,344.0 401.8,344.2 402.2,345.4 400.0,346.3 390.3,347.1 389.8,348.0 377.0,348.0" fill="#80ff00"/><polygon points="377.0,353.6 396.0,353.1 396.5,352.2 406.2,351.8 407.1,350.9 412.4,350.7 413.3,350.1 427.9,349.8 428.3,349.2 457.0,349.2 457.0,356.4 454.0,356.6 453.1,357.1 425.2,357.5 424.8,358.2 408.9,358.6 408.4,359.1 377.0,359.1" fill="#80ff00"/><polygon points="377.0,368.4 398.2,368.8 406.2,367.9 412.0,367.8 415.1,366.0 422.1,365.5 440.7,364.6 446.9,364.0 457.0,364.4 457.0,377.2 452.2,377.2 447.8,379.4 442.5,379.9 438.9,378.1 435.4,378.6 431.9,381.2 426.6,379.0 423.0,381.2 406.2,382.5 386.7,383.9 377.0,385.2" fill="#80ff00"/><polygon points="413.7,371.0 415.1,369.7 419.5,368.8 457.0,368.8 457.0,374.1 443.4,373.7 418.6,373.1 414.2,372.2" fill="#00ff80"/><polygon points="377.0,373.2 392.9,373.2 393.8,374.1 406.2,374.3 407.1,375.5 400.9,376.6 406.2,377.7 406.2,379.9 390.3,380.3 389.4,381.0 377.0,381.2" fill="#00ff80"/></g>
<g clip-path="url(#t34)"><rect x="457" y="329" width="80" height="57" fill="#00ff80"/><polygon points="457.0,329.0 482.7,329.0 483.5,329.9 485.3,330.8 519.8,330.8 520.7,329.9 537.0,329.7 537.0,337.0 517.2,337.1 516.3,337.8 488.9,338.0 488.4,338.9 465.8,339.2 465.4,340.1 457.0,340.1" fill="#80ff00"/><polygon points="457.0,333.2 468.5,333.0 468.9,333.9 466.3,334.3 465.8,335.0 460.5,335.2 459.7,336.1 457.0,336.1" fill="#00ff80"/><polygon points="457.0,349.4 481.8,349.2 482.7,348.3 497.7,348.0 498.6,347.1 507.9,346.9 508.3,346.0 537.0,345.8 537.0,355.1 526.9,355.1 526.0,356.0 479.1,356.0 478.2,356.9 468.9,356.9 468.5,356.0 457.0,356.0" fill="#80ff00"/><polygon points="457.0,365.1 513.6,365.1 514.5,364.2 524.3,364.0 524.7,363.1 537.0,362.8 537.0,371.9 533.1,371.9 532.2,372.8 511.0,372.8 510.1,371.9 497.3,371.7 496.8,370.8 488.9,370.6 488.4,369.7 479.1,369.7 478.2,368.8 457.0,368.8" fill="#80ff00"/><polygon points="516.7,366.2 537.0,366.0 537.0,367.9 533.1,367.9 532.2,369.0 527.4,369.0 526.9,368.1 517.2,367.9" fill="#00ff80"/><polygon points="457.0,374.1 468.9,374.1 470.7,375.5 468.5,376.8 465.8,377.0 465.4,378.1 457.0,378.1" fill="#80ff00"/><polygon points="457.0,380.2 478.7,380.2 479.1,381.0 482.2,381.2 481.8,381.9 472.9,382.1 472.5,383.0 457.0,383.0" fill="#80ff00"/><polygon points="531.8,384.3 537.0,383.9 537.0,386.0 533.1,386.0" fill="#80ff00"/></g>
<g clip-path="url(#t35)"><rect x="537" y="329" width="80" height="57" fill="#00ff80"/><polygon points="537.0,329.9 581.2,329.7 581.2,329.0 617.0,329.0 617.0,337.8 581.2,337.7 580.8,337.0 537.0,337.0" fill="#80ff00"/><polygon points="537.0,346.0 617.0,346.0 617.0,352.2 606.0,352.5 605.1,353.1 552.0,353.1 551.6,354.0 538.8,354.2 537.9,355.1 537.0,355.1" fill="#80ff00"/><polygon points="565.3,360.4 568.0,359.3 578.2,358.9 578.6,358.0 617.0,358.0 617.0,362.6 615.8,361.9 568.0,361.9 565.3,361.0" fill="#80ff00"/><polygon points="537.0,363.1 540.5,363.1 542.8,364.4 561.8,365.1 562.2,366.0 586.6,366.2 587.4,366.9 598.9,367.1 602.9,368.1 598.9,368.8 554.7,369.3 548.9,369.9 542.3,371.5 537.0,371.5" fill="#80ff00"/><polygon points="537.0,365.1 538.8,364.8 542.3,365.3 545.0,367.1 542.3,368.8 537.0,369.3" fill="#00ff80"/><polygon points="570.2,378.6 571.5,377.2 578.2,376.8 578.6,376.1 590.1,376.3 597.2,377.2 606.0,378.6 611.3,379.9 617.0,380.8 617.0,386.0 537.0,386.0 537.0,384.3 542.3,383.4 548.9,382.5 555.1,381.4 565.3,380.3 570.6,379.4" fill="#80ff00"/></g>
<g clip-path="url(#t36)"><rect x="617" y="329" width="80" height="57" fill="#00ff80"/><polygon points="617.0,329.0 656.8,329.0 656.8,329.9 632.0,329.9 631.6,330.8 622.3,330.8 621.9,331.7 648.0,332.1 648.9,333.0 660.4,333.0 660.8,332.1 666.6,332.1 667.4,333.0 678.9,333.9 682.5,333.0 683.4,334.1 694.9,334.3 697.0,335.0 697.0,338.7 683.4,338.7 682.5,337.8 660.4,337.8 659.5,338.7 648.0,338.7 647.5,337.8 617.0,337.8" fill="#80ff00"/><polygon points="685.1,344.9 692.2,344.0 692.7,343.0 697.0,342.7 697.0,344.9" fill="#80ff00"/><polygon points="617.0,346.0 666.6,346.0 667.0,347.1 663.0,347.4 663.5,348.9 668.3,349.2 670.1,350.7 697.0,350.7 697.0,356.0 678.9,356.4 662.1,356.9 660.4,354.7 659.5,354.0 644.4,353.8 643.5,352.9 618.8,352.9 617.9,352.2 617.0,352.2" fill="#80ff00"/><polygon points="617.0,358.2 648.0,358.2 649.7,359.5 649.3,360.9 678.9,360.9 679.8,360.2 697.0,360.0 697.0,362.6 690.5,363.1 678.9,364.2 638.2,364.8 637.8,363.1 625.0,362.6 622.3,361.9 617.0,362.6" fill="#80ff00"/><polygon points="624.1,375.5 625.4,374.3 638.2,374.0 638.7,373.1 644.4,372.8 644.9,372.2 679.4,371.9 679.8,371.3 697.0,371.0 697.0,375.0 694.9,375.0 694.9,376.3 686.0,377.2 673.6,377.7 660.4,376.8 646.2,377.2 645.3,377.7 635.6,377.8 631.2,377.0 624.5,375.9" fill="#80ff00"/><polygon points="617.0,381.2 628.1,381.0 628.5,380.2 697.0,380.2 697.0,386.0 617.0,386.0" fill="#80ff00"/></g>
<g clip-path="url(#t37)"><rect x="697" y="329" width="80" height="57" fill="#00ff80"/><polygon points="733.3,329.0 767.8,329.0 767.8,330.9 740.4,330.8 739.5,329.9 733.3,329.9" fill="#80ff00"/><polygon points="697.0,335.2 707.6,335.2 708.5,336.1 716.0,336.3 716.5,337.0 758.9,337.1 759.8,337.8 767.8,337.8 767.8,344.9 759.8,344.9 758.9,344.2 723.5,344.2 723.1,344.9 697.0,344.9" fill="#80ff00"/><polygon points="697.0,339.2 705.0,338.9 705.0,340.9 703.2,342.1 697.9,342.3 697.0,343.2" fill="#00ff80"/><polygon points="697.0,351.6 717.8,351.6 718.2,352.2 728.0,352.5 728.4,353.1 736.8,353.1 737.7,354.2 767.8,354.5 767.8,359.1 752.8,359.1 752.3,359.8 723.5,360.0 723.1,360.9 707.6,361.0 707.2,361.7 701.4,361.9 701.0,362.8 697.0,363.1" fill="#80ff00"/><polygon points="697.0,356.4 705.0,356.4 707.6,357.3 705.4,358.2 697.9,358.9 697.0,359.5" fill="#00ff80"/><polygon points="697.0,371.0 697.9,370.2 705.0,369.7 705.4,369.0 723.5,368.8 724.4,367.9 732.8,367.5 733.3,366.9 758.9,366.6 759.8,366.0 767.8,366.0 767.8,372.8 762.5,372.4 719.1,373.2 697.9,374.1 697.0,375.0" fill="#80ff00"/><polygon points="697.0,376.3 709.8,376.3 709.8,377.2 697.0,377.2" fill="#80ff00"/><polygon points="719.1,376.3 767.8,375.9 767.8,377.0 719.1,377.2" fill="#80ff00"/><polygon points="697.0,380.3 707.6,380.3 708.1,381.2 713.8,381.4 713.8,382.5 709.4,383.0 708.5,384.3 708.5,386.0 697.0,386.0" fill="#80ff00"/></g>
<g clip-path="url(#t40)"><rect x="137" y="386" width="80" height="57" fill="#00ff80"/><polygon points="137.0,386.0 217.0,386.0 217.0,387.8 212.2,388.2 202.5,390.0 193.0,390.1 182.8,390.1 182.8,390.8 177.3,390.8 177.3,390.1 137.0,390.1" fill="#80ff00"/><polygon points="137.0,393.2 189.7,393.2 190.3,392.0 202.5,390.6 212.2,389.1 217.0,389.1 217.0,395.7 213.1,396.4 198.9,397.7 190.1,399.3 185.9,400.2 175.4,403.8 168.0,406.3 163.0,410.6 163.0,416.8 165.5,416.2 168.0,416.8 168.6,424.1 172.4,443.0 142.3,443.0 142.3,433.8 145.1,424.1 143.2,417.5 140.1,412.5 137.0,410.1" fill="#80ff00"/><polygon points="137.0,395.0 174.8,395.0 171.1,396.4 166.7,397.3 161.8,398.6 157.4,401.3 151.9,407.5 150.0,409.1 148.8,408.7 144.4,403.8 143.2,398.9 143.8,398.2 137.0,398.2" fill="#00ff80"/><polygon points="187.4,395.3 194.5,394.4 200.7,393.1 206.0,392.9 214.9,393.1 214.9,394.8 212.2,395.6 198.9,395.6 187.4,395.9" fill="#ffff00"/><polygon points="206.0,393.1 212.2,393.3 214.0,394.1 212.2,394.8 206.0,394.8" fill="#ff8000"/></g>
<g clip-path="url(#t41)"><rect x="217" y="386" width="80" height="57" fill="#00ff80"/><polygon points="217.0,386.0 297.0,386.0 297.0,393.1 294.9,393.5 284.3,392.9 278.9,392.4 263.0,392.0 252.4,392.2 240.9,392.9 237.4,392.2 227.6,392.4 222.3,393.8 219.7,395.3 217.0,395.7" fill="#80ff00"/><polygon points="225.0,387.1 236.5,387.1 236.5,387.9 225.0,387.9" fill="#00ff80"/><polygon points="247.1,387.9 263.0,387.9 263.0,388.8 247.1,388.8" fill="#00ff80"/><polygon points="227.6,390.0 240.9,390.0 240.9,390.9 227.6,390.9" fill="#00ff80"/><polygon points="278.9,390.0 291.3,390.0 291.3,390.9 278.9,390.9" fill="#00ff80"/><polygon points="221.0,392.4 227.6,391.8 230.3,391.1 233.8,391.3 237.4,392.2 233.8,392.9 221.0,392.9" fill="#ffff00"/><polygon points="253.3,390.0 263.0,389.7 263.0,390.9 253.3,390.9" fill="#ffff00"/><polygon points="231.2,394.4 234.7,393.5 240.9,393.1 247.1,393.5 278.9,394.1 285.1,393.5 291.3,393.8 294.9,394.4 291.3,395.0 231.2,395.0" fill="#00ffff"/><polygon points="240.9,393.1 247.1,392.9 278.9,393.1 285.1,393.3 284.3,394.0 278.9,394.7 249.7,394.7 247.1,394.4 241.8,393.8" fill="#0050ff"/><polygon points="249.7,393.3 276.3,393.3 275.4,394.1 250.6,394.1" fill="#0000b0"/><polygon points="243.5,443.0 247.1,430.2 248.0,419.6 249.7,409.9 255.9,405.0 263.0,404.1 282.5,404.1 293.1,406.8 296.6,409.5 293.1,414.3 287.8,423.2 280.7,435.6 277.2,443.0" fill="#80ff00"/></g>
<g clip-path="url(#t42)"><rect x="297" y="386" width="80" height="57" fill="#00ff80"/><polygon points="297.0,386.0 313.8,386.0 314.7,386.9 320.0,387.1 320.5,387.9 349.2,388.2 350.1,389.1 377.0,389.1 377.0,443.0 350.1,443.0 351.0,428.5 353.6,422.3 358.1,419.6 358.1,415.2 355.4,410.8 350.1,406.4 344.8,403.7 334.2,400.6 323.5,397.9 314.7,396.6 305.8,395.7 300.5,393.1 297.0,393.1" fill="#80ff00"/><polygon points="347.0,394.8 350.1,395.6 358.9,396.2 371.3,395.9 375.8,398.4 375.8,404.6 371.3,405.9 370.5,404.1 366.0,400.2 358.9,397.9 354.5,397.5 347.0,396.2" fill="#00ff80"/><polygon points="367.8,390.9 377.0,390.9 377.0,392.0 367.8,392.0" fill="#00ff80"/><polygon points="301.9,392.4 305.8,391.5 310.3,391.3 310.3,392.2 305.8,392.6" fill="#00ff80"/><polygon points="305.0,394.4 308.5,393.1 314.7,393.5 321.8,394.4 330.6,395.0 330.6,395.9 321.8,395.7 309.4,395.7 305.0,395.3" fill="#ffff00"/><polygon points="306.3,393.8 308.5,393.3 313.8,394.0 313.8,394.8 306.3,394.8" fill="#ff8000"/></g>
<g clip-path="url(#t43)"><rect x="377" y="386" width="80" height="57" fill="#80ff00"/><polygon points="377.0,386.0 392.9,386.0 396.0,386.7 457.0,386.9 457.0,392.2 431.0,392.4 425.2,393.1 396.0,392.9 394.7,392.0 377.0,391.8" fill="#00ff80"/><polygon points="377.0,389.1 386.7,389.4 386.7,390.2 377.0,390.2" fill="#80ff00"/><polygon points="444.3,387.9 457.0,387.9 457.0,389.5 450.5,390.2 444.3,389.1" fill="#80ff00"/><polygon points="387.6,394.8 406.2,394.8 406.2,395.9 387.6,395.9" fill="#00ff80"/><polygon points="431.9,395.3 440.7,394.4 444.3,393.5 450.5,392.9 457.0,392.9 457.0,394.8 450.5,395.3 440.7,395.9 431.9,395.9" fill="#ffff00"/><polygon points="450.0,394.0 457.0,393.8 457.0,394.8 450.0,394.8" fill="#ff8000"/><polygon points="382.3,443.0 385.0,433.8 387.6,428.5 386.7,424.9 390.3,419.6 395.6,414.3 401.8,410.8 412.4,405.9 424.8,401.5 437.2,397.9 453.1,396.6 457.0,395.7 457.0,430.2 454.9,433.8 453.1,439.1 452.2,443.0" fill="#00ff80"/></g>
<g clip-path="url(#t44)"><rect x="457" y="386" width="80" height="57" fill="#00ff80"/><polygon points="465.8,386.0 505.7,386.0 505.7,387.6 490.6,387.9 476.5,388.2 465.8,387.8" fill="#80ff00"/><polygon points="457.0,388.5 462.3,388.2 492.4,389.7 501.2,389.1 514.5,388.2 519.8,388.8 537.0,389.1 537.0,391.5 526.9,392.4 518.1,392.9 503.0,392.4 483.5,392.9 472.9,393.8 465.8,394.8 460.5,395.6 457.0,395.6" fill="#80ff00"/><polygon points="457.0,390.9 459.7,391.1 460.1,392.6 457.0,392.9" fill="#00ff80"/><polygon points="457.0,393.8 460.1,394.0 460.1,395.3 457.0,395.3" fill="#ffff00"/><polygon points="532.9,390.0 535.8,389.7 536.2,391.1 532.9,391.1" fill="#ffff00"/><polygon points="479.1,394.4 482.7,393.5 495.1,393.1 510.1,392.9 519.8,393.5 524.3,394.4 519.8,394.8 479.1,394.8" fill="#00ffff"/><polygon points="495.1,392.9 507.9,392.9 507.9,394.0 495.1,394.0" fill="#0050ff"/><polygon points="532.2,394.4 534.9,393.5 537.0,393.1 537.0,396.6 534.9,395.7" fill="#80ff00"/><polygon points="457.0,428.9 465.8,421.4 470.3,419.2 481.8,415.2 490.6,411.7 499.5,406.4 508.3,404.1 526.9,404.1 533.1,405.5 537.0,405.9 537.0,427.6 532.2,431.1 525.1,436.4 518.9,440.9 517.2,443.0 457.0,443.0" fill="#80ff00"/></g>
<g clip-path="url(#t45)"><rect x="537" y="386" width="80" height="57" fill="#00ff80"/><polygon points="537.0,389.1 577.7,389.1 578.6,390.0 606.0,390.0 606.0,390.9 597.2,391.1 594.5,392.6 617.0,393.1 617.0,395.0 592.8,395.3 592.8,399.3 592.3,403.7 592.3,423.2 597.2,425.8 600.7,420.5 607.8,416.1 617.0,413.0 617.0,443.0 575.1,443.0 574.2,432.0 572.4,424.9 567.1,412.5 568.0,410.3 572.4,409.9 577.7,412.5 581.7,415.6 581.2,409.9 577.7,405.9 572.4,401.9 566.2,399.3 561.8,397.9 549.4,397.5 537.0,397.1" fill="#80ff00"/><polygon points="537.0,391.1 543.2,391.1 545.8,392.4 537.0,392.9" fill="#00ff80"/><polygon points="537.0,407.2 538.8,407.2 543.2,408.6 546.7,412.5 545.8,417.0 542.3,421.4 538.8,425.8 537.0,426.7" fill="#80ff00"/><polygon points="612.2,401.5 614.0,399.3 617.0,397.1 617.0,401.5" fill="#80ff00"/></g>
<g clip-path="url(#t46)"><rect x="617" y="386" width="80" height="57" fill="#00ff80"/><polygon points="644.0,386.0 659.9,386.0 659.9,386.9 644.0,386.9" fill="#80ff00"/><polygon points="617.0,393.1 638.2,392.4 663.0,392.0 663.9,391.1 697.0,391.1 697.0,392.2 689.6,392.4 680.7,393.1 670.1,394.1 654.2,396.2 640.9,397.1 628.5,398.4 618.8,400.9 617.0,401.0" fill="#80ff00"/><polygon points="617.0,394.8 624.1,394.8 624.1,395.7 617.0,396.6" fill="#00ff80"/><polygon points="635.1,394.4 638.2,392.9 659.5,392.9 660.4,393.8 656.8,395.0 635.1,395.0" fill="#ffff00"/><polygon points="679.8,394.4 686.0,393.5 697.0,393.1 697.0,394.8 679.8,394.8" fill="#00ffff"/><polygon points="617.0,412.5 620.5,411.2 625.0,409.5 634.7,407.4 645.3,406.2 660.4,405.0 688.7,405.0 695.8,406.2 697.0,407.2 697.0,443.0 685.1,443.0 684.3,432.0 680.7,425.8 673.6,419.6 660.4,416.1 644.4,416.1 634.7,419.2 628.5,423.2 622.3,430.2 618.8,437.3 617.0,440.9" fill="#80ff00"/></g>
<g clip-path="url(#t47)"><rect x="697" y="386" width="80" height="57" fill="#00ff80"/><polygon points="712.0,386.0 767.8,386.0 767.8,390.0 732.4,390.6 718.2,390.4 718.2,389.5 712.9,388.5 712.0,387.3" fill="#80ff00"/><polygon points="697.0,393.1 705.0,393.3 708.1,394.0 707.6,394.8 697.0,394.8" fill="#00ffff"/><polygon points="720.9,393.5 730.6,393.1 743.0,393.3 751.9,393.8 752.8,394.8 750.1,395.7 743.0,396.6 730.6,395.7 720.9,394.8" fill="#80ff00"/><polygon points="730.2,393.3 732.8,393.3 732.8,394.1 730.2,394.1" fill="#ffff00"/><polygon points="756.3,394.0 758.9,393.1 759.8,394.8 756.3,394.8" fill="#80ff00"/><polygon points="760.7,398.4 767.8,397.9 767.8,402.8 764.3,401.5" fill="#80ff00"/><polygon points="697.0,407.2 702.3,408.6 710.3,411.7 716.5,417.9 720.9,424.1 722.7,430.2 723.1,443.0 697.0,443.0" fill="#80ff00"/></g>
<g clip-path="url(#t50)"><rect x="137" y="443" width="80" height="57" fill="#00ff80"/><polygon points="143.2,443.0 173.3,443.0 175.9,448.3 180.4,455.4 186.6,461.6 190.1,464.2 197.2,466.0 201.6,466.9 201.6,468.0 193.6,468.2 164.4,468.7 159.1,467.8 154.7,461.6 150.3,451.8 148.5,446.5 146.7,447.4 144.1,444.8" fill="#80ff00"/><polygon points="206.0,466.9 211.3,466.9 211.3,467.8 206.0,467.8" fill="#80ff00"/><polygon points="211.3,467.3 214.9,465.6 217.0,464.7 217.0,472.2 215.8,472.2" fill="#80ff00"/></g>
<g clip-path="url(#t51)"><rect x="217" y="443" width="80" height="57" fill="#80ff00"/><polygon points="217.0,443.0 241.8,443.0 240.0,449.2 236.5,454.5 230.3,459.8 224.1,462.5 217.0,464.7" fill="#00ff80"/><polygon points="277.2,443.0 297.0,443.0 297.0,468.2 284.3,468.0 278.1,466.5 273.6,462.5 271.9,458.0 272.8,451.8 275.4,445.7" fill="#00ff80"/></g>
<g clip-path="url(#t52)"><rect x="297" y="443" width="80" height="57" fill="#80ff00"/><polygon points="297.0,443.0 349.2,443.0 349.2,459.8 346.6,463.4 342.1,466.2 314.7,466.9 312.9,468.0 297.0,468.2" fill="#00ff80"/></g>
<g clip-path="url(#t53)"><rect x="377" y="443" width="80" height="57" fill="#00ff80"/><polygon points="377.0,443.0 381.0,443.0 381.4,452.7 385.0,459.8 389.4,466.0 392.9,468.7 391.2,471.3 377.0,471.3" fill="#80ff00"/><polygon points="452.2,443.0 457.0,443.0 457.0,471.3 447.8,471.3 453.1,467.8 455.8,460.7 454.9,451.8 453.1,446.5" fill="#80ff00"/></g>
<g clip-path="url(#t54)"><rect x="457" y="443" width="80" height="57" fill="#80ff00"/><polygon points="516.3,443.0 537.0,443.0 537.0,471.3 511.0,471.3 506.6,469.5 503.5,466.0 503.0,460.7 504.8,457.2 510.1,450.1" fill="#00ff80"/></g>
<g clip-path="url(#t55)"><rect x="537" y="443" width="80" height="57" fill="#00ff80"/><polygon points="575.1,443.0 617.0,443.0 617.0,468.7 591.9,468.8 586.6,466.9 579.5,460.7 576.4,454.5 575.9,448.3" fill="#80ff00"/><polygon points="615.8,445.7 617.0,445.7 617.0,451.8 615.8,451.8" fill="#00ff80"/></g>
<g clip-path="url(#t56)"><rect x="617" y="443" width="80" height="57" fill="#00ff80"/><polygon points="617.0,455.4 620.5,459.8 625.8,464.2 630.3,466.9 625.0,468.2 617.0,468.7" fill="#80ff00"/><polygon points="686.0,443.0 697.0,443.0 697.0,471.3 663.0,471.3 670.1,469.5 677.2,465.1 682.5,460.7 685.1,454.5" fill="#80ff00"/></g>
<g clip-path="url(#t57)"><rect x="697" y="443" width="80" height="57" fill="#00ff80"/><polygon points="697.0,443.0 723.1,443.0 720.9,453.6 720.0,465.1 721.3,471.3 697.0,471.3" fill="#80ff00"/></g></svg>
<g fill="#000" shape-rendering="crispEdges">
<rect x="135" y="156" width="634" height="2"/>
<rect x="135" y="472" width="634" height="2"/>
<rect x="135" y="156" width="2" height="318"/>
<rect x="767" y="156" width="2" height="318"/>
<rect x="147" y="468" width="1" height="4"/>
<rect x="147" y="158" width="1" height="4"/>
<rect x="160" y="468" width="1" height="4"/>
<rect x="160" y="158" width="1" height="4"/>
<rect x="172" y="468" width="1" height="4"/>
<rect x="172" y="158" width="1" height="4"/>
<rect x="185" y="468" width="1" height="4"/>
<rect x="185" y="158" width="1" height="4"/>
<rect x="197" y="464" width="2" height="8"/>
<rect x="197" y="158" width="2" height="8"/>
<rect x="210" y="468" width="1" height="4"/>
<rect x="210" y="158" width="1" height="4"/>
<rect x="223" y="468" width="1" height="4"/>
<rect x="223" y="158" width="1" height="4"/>
<rect x="236" y="468" width="1" height="4"/>
<rect x="236" y="158" width="1" height="4"/>
<rect x="249" y="468" width="1" height="4"/>
<rect x="249" y="158" width="1" height="4"/>
<rect x="260" y="464" width="2" height="8"/>
<rect x="260" y="158" width="2" height="8"/>
<rect x="274" y="468" width="1" height="4"/>
<rect x="274" y="158" width="1" height="4"/>
<rect x="287" y="468" width="1" height="4"/>
<rect x="287" y="158" width="1" height="4"/>
<rect x="299" y="468" width="1" height="4"/>
<rect x="299" y="158" width="1" height="4"/>
<rect x="312" y="468" width="1" height="4"/>
<rect x="312" y="158" width="1" height="4"/>
<rect x="324" y="464" width="2" height="8"/>
<rect x="324" y="158" width="2" height="8"/>
<rect x="337" y="468" width="1" height="4"/>
<rect x="337" y="158" width="1" height="4"/>
<rect x="350" y="468" width="1" height="4"/>
<rect x="350" y="158" width="1" height="4"/>
<rect x="363" y="468" width="1" height="4"/>
<rect x="363" y="158" width="1" height="4"/>
<rect x="376" y="468" width="1" height="4"/>
<rect x="376" y="158" width="1" height="4"/>
<rect x="387" y="464" width="2" height="8"/>
<rect x="387" y="158" width="2" height="8"/>
<rect x="401" y="468" width="1" height="4"/>
<rect x="401" y="158" width="1" height="4"/>
<rect x="414" y="468" width="1" height="4"/>
<rect x="414" y="158" width="1" height="4"/>
<rect x="426" y="468" width="1" height="4"/>
<rect x="426" y="158" width="1" height="4"/>
<rect x="439" y="468" width="1" height="4"/>
<rect x="439" y="158" width="1" height="4"/>
<rect x="451" y="464" width="2" height="8"/>
<rect x="451" y="158" width="2" height="8"/>
<rect x="464" y="468" width="1" height="4"/>
<rect x="464" y="158" width="1" height="4"/>
<rect x="477" y="468" width="1" height="4"/>
<rect x="477" y="158" width="1" height="4"/>
<rect x="490" y="468" width="1" height="4"/>
<rect x="490" y="158" width="1" height="4"/>
<rect x="503" y="468" width="1" height="4"/>
<rect x="503" y="158" width="1" height="4"/>
<rect x="514" y="464" width="2" height="8"/>
<rect x="514" y="158" width="2" height="8"/>
<rect x="528" y="468" width="1" height="4"/>
<rect x="528" y="158" width="1" height="4"/>
<rect x="541" y="468" width="1" height="4"/>
<rect x="541" y="158" width="1" height="4"/>
<rect x="553" y="468" width="1" height="4"/>
<rect x="553" y="158" width="1" height="4"/>
<rect x="566" y="468" width="1" height="4"/>
<rect x="566" y="158" width="1" height="4"/>
<rect x="578" y="464" width="2" height="8"/>
<rect x="578" y="158" width="2" height="8"/>
<rect x="591" y="468" width="1" height="4"/>
<rect x="591" y="158" width="1" height="4"/>
<rect x="604" y="468" width="1" height="4"/>
<rect x="604" y="158" width="1" height="4"/>
<rect x="617" y="468" width="1" height="4"/>
<rect x="617" y="158" width="1" height="4"/>
<rect x="630" y="468" width="1" height="4"/>
<rect x="630" y="158" width="1" height="4"/>
<rect x="641" y="464" width="2" height="8"/>
<rect x="641" y="158" width="2" height="8"/>
<rect x="655" y="468" width="1" height="4"/>
<rect x="655" y="158" width="1" height="4"/>
<rect x="668" y="468" width="1" height="4"/>
<rect x="668" y="158" width="1" height="4"/>
<rect x="680" y="468" width="1" height="4"/>
<rect x="680" y="158" width="1" height="4"/>
<rect x="693" y="468" width="1" height="4"/>
<rect x="693" y="158" width="1" height="4"/>
<rect x="705" y="464" width="2" height="8"/>
<rect x="705" y="158" width="2" height="8"/>
<rect x="718" y="468" width="1" height="4"/>
<rect x="718" y="158" width="1" height="4"/>
<rect x="731" y="468" width="1" height="4"/>
<rect x="731" y="158" width="1" height="4"/>
<rect x="744" y="468" width="1" height="4"/>
<rect x="744" y="158" width="1" height="4"/>
<rect x="757" y="468" width="1" height="4"/>
<rect x="757" y="158" width="1" height="4"/>
<rect x="137" y="453" width="4" height="1"/>
<rect x="763" y="453" width="4" height="1"/>
<rect x="137" y="434" width="4" height="1"/>
<rect x="763" y="434" width="4" height="1"/>
<rect x="137" y="414" width="4" height="1"/>
<rect x="763" y="414" width="4" height="1"/>
<rect x="137" y="393" width="8" height="2"/>
<rect x="759" y="393" width="8" height="2"/>
<rect x="137" y="374" width="4" height="1"/>
<rect x="763" y="374" width="4" height="1"/>
<rect x="137" y="354" width="4" height="1"/>
<rect x="763" y="354" width="4" height="1"/>
<rect x="137" y="335" width="4" height="1"/>
<rect x="763" y="335" width="4" height="1"/>
<rect x="137" y="314" width="8" height="2"/>
<rect x="759" y="314" width="8" height="2"/>
<rect x="137" y="295" width="4" height="1"/>
<rect x="763" y="295" width="4" height="1"/>
<rect x="137" y="275" width="4" height="1"/>
<rect x="763" y="275" width="4" height="1"/>
<rect x="137" y="256" width="4" height="1"/>
<rect x="763" y="256" width="4" height="1"/>
<rect x="137" y="235" width="8" height="2"/>
<rect x="759" y="235" width="8" height="2"/>
<rect x="137" y="216" width="4" height="1"/>
<rect x="763" y="216" width="4" height="1"/>
<rect x="137" y="196" width="4" height="1"/>
<rect x="763" y="196" width="4" height="1"/>
<rect x="137" y="176" width="4" height="1"/>
<rect x="763" y="176" width="4" height="1"/>
</g>
<polygon points="784,247 793,206.5 802,247" fill="#ffa8a8" stroke="#000" stroke-width="2" stroke-linejoin="miter"/>
<polygon points="784,473 793,514 802,473" fill="#8000a0" stroke="#000" stroke-width="2" stroke-linejoin="miter"/>
<rect x="784" y="247.00" width="18" height="22.60" fill="#ff2020" stroke="#000" stroke-width="2"/>
<rect x="784" y="269.60" width="18" height="22.60" fill="#ff5000" stroke="#000" stroke-width="2"/>
<rect x="784" y="292.20" width="18" height="22.60" fill="#ffa000" stroke="#000" stroke-width="2"/>
<rect x="784" y="314.80" width="18" height="22.60" fill="#ffff00" stroke="#000" stroke-width="2"/>
<rect x="784" y="337.40" width="18" height="22.60" fill="#80ff00" stroke="#000" stroke-width="2"/>
<rect x="784" y="360.00" width="18" height="22.60" fill="#00ff80" stroke="#000" stroke-width="2"/>
<rect x="784" y="382.60" width="18" height="22.60" fill="#00ffff" stroke="#000" stroke-width="2"/>
<rect x="784" y="405.20" width="18" height="22.60" fill="#0050ff" stroke="#000" stroke-width="2"/>
<rect x="784" y="427.80" width="18" height="22.60" fill="#0000b0" stroke="#000" stroke-width="2"/>
<rect x="784" y="450.40" width="18" height="22.60" fill="#3000a0" stroke="#000" stroke-width="2"/>
<g fill="none" stroke="#000" stroke-width="1.9" stroke-linecap="round" stroke-linejoin="round"><path transform="translate(227.05,111.95) scale(1.3000)" d="M0,-10 L0,4.6 M2.55,-10.00 L5.95,-10.00 L8.50,-7.00 L8.50,-3.00 L5.95,0.00 L2.55,0.00 L0.00,-3.00 L0.00,-7.00 Z" vector-effect="non-scaling-stroke"/><path transform="translate(244.75,111.95) scale(1.3000)" d="M2.76,-10.00 L6.44,-10.00 L9.20,-7.00 L9.20,-3.00 L6.44,0.00 L2.76,0.00 L0.00,-3.00 L0.00,-7.00 Z" vector-effect="non-scaling-stroke"/><path transform="translate(260.75,111.95) scale(1.3000)" d="M2.4,-15 L2.4,-2.2 C2.4,-0.6 3.2,0 5,0 M0,-10 L5.4,-10" vector-effect="non-scaling-stroke"/><path transform="translate(272.35,111.95) scale(1.3000)" d="M0,-5 L8.8,-5 L8.8,-7.0 L6.16,-10 L2.64,-10 L0,-7.0 L0,-3.0 L2.64,0 L6.16,0 L8.8,-2.2" vector-effect="non-scaling-stroke"/><path transform="translate(290.05,111.95) scale(1.3000)" d="M0,-10 L0,0 M0,-6 C0,-8.8 1.7,-10 4,-10 C6.3,-10 8,-8.8 8,-6 L8,0" vector-effect="non-scaling-stroke"/><path transform="translate(306.45,111.95) scale(1.3000)" d="M2.4,-15 L2.4,-2.2 C2.4,-0.6 3.2,0 5,0 M0,-10 L5.4,-10" vector-effect="non-scaling-stroke"/><path transform="translate(318.65,111.95) scale(1.3000)" d="M0,-10 L0,0 M-0.6,-12.4 L0,-13.6 L0.6,-12.4 Z" vector-effect="non-scaling-stroke"/><path transform="translate(325.25,111.95) scale(1.3000)" d="M8.5,-10 L8.5,0 M2.55,-10.00 L5.95,-10.00 L8.50,-7.00 L8.50,-3.00 L5.95,0.00 L2.55,0.00 L0.00,-3.00 L0.00,-7.00 Z" vector-effect="non-scaling-stroke"/><path transform="translate(344.05,111.95) scale(1.3000)" d="M0,-15 L0,0" vector-effect="non-scaling-stroke"/><path transform="translate(363.95,111.95) scale(1.3000)" d="M2.4,-15 L2.4,-2.2 C2.4,-0.6 3.2,0 5,0 M0,-10 L5.4,-10" vector-effect="non-scaling-stroke"/><path transform="translate(376.15,111.95) scale(1.3000)" d="M0,-5 L8.8,-5 L8.8,-7.0 L6.16,-10 L2.64,-10 L0,-7.0 L0,-3.0 L2.64,0 L6.16,0 L8.8,-2.2" vector-effect="non-scaling-stroke"/><path transform="translate(392.75,111.95) scale(1.3000)" d="M0,-10 L0,0 M0,-6.5 C0,-9 1.6,-10 4.1,-10 C6.6,-10 8.25,-9 8.25,-6.5 L8.25,0 M8.25,-6.5 C8.25,-9 9.9,-10 12.4,-10 C14.9,-10 16.5,-9 16.5,-6.5 L16.5,0" vector-effect="non-scaling-stroke"/><path transform="translate(420.85,111.95) scale(1.3000)" d="M0,-10 L0,4.6 M2.55,-10.00 L5.95,-10.00 L8.50,-7.00 L8.50,-3.00 L5.95,0.00 L2.55,0.00 L0.00,-3.00 L0.00,-7.00 Z" vector-effect="non-scaling-stroke"/><path transform="translate(437.95,111.95) scale(1.3000)" d="M0,-5 L8.8,-5 L8.8,-7.0 L6.16,-10 L2.64,-10 L0,-7.0 L0,-3.0 L2.64,0 L6.16,0 L8.8,-2.2" vector-effect="non-scaling-stroke"/><path transform="translate(455.15,111.95) scale(1.3000)" d="M0,-10 L0,0 M0,-5.5 C0,-8.5 1.7,-10 3.8,-10 L5.5,-10" vector-effect="non-scaling-stroke"/><path transform="translate(466.25,111.95) scale(1.3000)" d="M8.5,-10 L8.5,0 M2.55,-10.00 L5.95,-10.00 L8.50,-7.00 L8.50,-3.00 L5.95,0.00 L2.55,0.00 L0.00,-3.00 L0.00,-7.00 Z" vector-effect="non-scaling-stroke"/><path transform="translate(484.95,111.95) scale(1.3000)" d="M2.4,-15 L2.4,-2.2 C2.4,-0.6 3.2,0 5,0 M0,-10 L5.4,-10" vector-effect="non-scaling-stroke"/><path transform="translate(497.15,111.95) scale(1.3000)" d="M0,-10 L0,-4 C0,-1.2 1.7,0 4,0 C6.3,0 8,-1.2 8,-4 M8,-10 L8,0" vector-effect="non-scaling-stroke"/><path transform="translate(513.15,111.95) scale(1.3000)" d="M0,-10 L0,0 M0,-5.5 C0,-8.5 1.7,-10 3.8,-10 L5.5,-10" vector-effect="non-scaling-stroke"/><path transform="translate(524.15,111.95) scale(1.3000)" d="M0,-5 L8.8,-5 L8.8,-7.0 L6.16,-10 L2.64,-10 L0,-7.0 L0,-3.0 L2.64,0 L6.16,0 L8.8,-2.2" vector-effect="non-scaling-stroke"/><path transform="translate(556.25,111.95) scale(1.3000)" d="M8.5,-15 L8.5,0 M2.55,-10.00 L5.95,-10.00 L8.50,-7.00 L8.50,-3.00 L5.95,0.00 L2.55,0.00 L0.00,-3.00 L0.00,-7.00 Z" vector-effect="non-scaling-stroke"/><path transform="translate(573.45,111.95) scale(1.3000)" d="M0,-5 L8.8,-5 L8.8,-7.0 L6.16,-10 L2.64,-10 L0,-7.0 L0,-3.0 L2.64,0 L6.16,0 L8.8,-2.2" vector-effect="non-scaling-stroke"/><path transform="translate(589.45,111.95) scale(1.3000)" d="M0,-10 L4.25,0 L8.5,-10" vector-effect="non-scaling-stroke"/><path transform="translate(605.35,111.95) scale(1.3000)" d="M0,-10 L0,0 M-0.6,-12.4 L0,-13.6 L0.6,-12.4 Z" vector-effect="non-scaling-stroke"/><path transform="translate(611.95,111.95) scale(1.3000)" d="M8.5,-10 L8.5,0 M2.55,-10.00 L5.95,-10.00 L8.50,-7.00 L8.50,-3.00 L5.95,0.00 L2.55,0.00 L0.00,-3.00 L0.00,-7.00 Z" vector-effect="non-scaling-stroke"/><path transform="translate(629.15,111.95) scale(1.3000)" d="M2.4,-15 L2.4,-2.2 C2.4,-0.6 3.2,0 5,0 M0,-10 L5.4,-10" vector-effect="non-scaling-stroke"/><path transform="translate(641.25,111.95) scale(1.3000)" d="M0,-10 L0,0 M-0.6,-12.4 L0,-13.6 L0.6,-12.4 Z" vector-effect="non-scaling-stroke"/><path transform="translate(647.95,111.95) scale(1.3000)" d="M2.76,-10.00 L6.44,-10.00 L9.20,-7.00 L9.20,-3.00 L6.44,0.00 L2.76,0.00 L0.00,-3.00 L0.00,-7.00 Z" vector-effect="non-scaling-stroke"/><path transform="translate(667.25,111.95) scale(1.3000)" d="M0,-10 L0,0 M0,-6 C0,-8.8 1.7,-10 4,-10 C6.3,-10 8,-8.8 8,-6 L8,0" vector-effect="non-scaling-stroke"/></g>
<g fill="none" stroke="#000" stroke-width="2.0" stroke-linecap="round" stroke-linejoin="round"><path transform="translate(48.90,133.90) scale(0.7200)" d="M4,-15 C1.2,-12 0,-9.5 0,-6.4 C0,-3.3 1.2,-0.6 4,2.2" vector-effect="non-scaling-stroke"/><path transform="translate(56.90,133.90) scale(0.7200)" d="M0,-11 L9.9,-1.2 M9.9,-11 L0,-1.2" vector-effect="non-scaling-stroke"/><path transform="translate(69.90,133.90) scale(0.7200)" d="M0,-12.3 L4.6,-15 L4.6,0" vector-effect="non-scaling-stroke"/><path transform="translate(79.80,133.90) scale(0.7200)" d="M10.3,-15 L0,-15 L0,0 L10.3,0 M0,-7.5 L8.5,-7.5" vector-effect="non-scaling-stroke"/><path transform="translate(91.00,133.90) scale(0.7200)" d="M7.2,0 L7.2,-15 L0,-4.5 L10,-4.5" vector-effect="non-scaling-stroke"/><path transform="translate(109.80,133.90) scale(0.7200)" d="M0,-10 L0,0 M0,-6.5 C0,-9 1.6,-10 4.1,-10 C6.6,-10 8.25,-9 8.25,-6.5 L8.25,0 M8.25,-6.5 C8.25,-9 9.9,-10 12.4,-10 C14.9,-10 16.5,-9 16.5,-6.5 L16.5,0" vector-effect="non-scaling-stroke"/><path transform="translate(127.00,133.90) scale(0.7200)" d="M0,-15 C2.8,-12 4,-9.5 4,-6.4 C4,-3.3 2.8,-0.6 0,2.2" vector-effect="non-scaling-stroke"/></g>
<g fill="none" stroke="#000" stroke-width="2.0" stroke-linecap="round" stroke-linejoin="round"><path transform="translate(691.00,517.00) scale(0.7200)" d="M4,-15 C1.2,-12 0,-9.5 0,-6.4 C0,-3.3 1.2,-0.6 4,2.2" vector-effect="non-scaling-stroke"/><path transform="translate(699.00,517.00) scale(0.7200)" d="M0,-11 L9.9,-1.2 M9.9,-11 L0,-1.2" vector-effect="non-scaling-stroke"/><path transform="translate(712.00,517.00) scale(0.7200)" d="M0,-12.3 L4.6,-15 L4.6,0" vector-effect="non-scaling-stroke"/><path transform="translate(722.00,517.00) scale(0.7200)" d="M10.3,-15 L0,-15 L0,0 L10.3,0 M0,-7.5 L8.5,-7.5" vector-effect="non-scaling-stroke"/><path transform="translate(732.10,517.00) scale(0.7200)" d="M7.2,0 L7.2,-15 L0,-4.5 L10,-4.5" vector-effect="non-scaling-stroke"/><path transform="translate(752.80,517.00) scale(0.7200)" d="M0,-10 L0,0 M0,-6.5 C0,-9 1.6,-10 4.1,-10 C6.6,-10 8.25,-9 8.25,-6.5 L8.25,0 M8.25,-6.5 C8.25,-9 9.9,-10 12.4,-10 C14.9,-10 16.5,-9 16.5,-6.5 L16.5,0" vector-effect="non-scaling-stroke"/><path transform="translate(770.00,517.00) scale(0.7200)" d="M0,-15 C2.8,-12 4,-9.5 4,-6.4 C4,-3.3 2.8,-0.6 0,2.2" vector-effect="non-scaling-stroke"/></g>
<g fill="none" stroke="#000" stroke-width="1.1" stroke-linecap="round" stroke-linejoin="round"><path transform="translate(778.45,168.05) scale(0.7070)" d="M2.4,-15 L2.4,-2.2 C2.4,-0.6 3.2,0 5,0 M0,-10 L5.4,-10" vector-effect="non-scaling-stroke"/><path transform="translate(786.55,168.05) scale(0.7070)" d="M0,-9.4 L12.6,-9.4 M0,-4 L12.6,-4" vector-effect="non-scaling-stroke"/><path transform="translate(799.55,168.05) scale(0.7070)" d="M0.4,-13 C1.2,-14.5 2.9,-15 4.9,-15 C7.5,-15 9.2,-13.7 9.2,-11.6 C9.2,-9.5 7.5,-8.2 4.5,-8.2 C8,-8.2 10,-6.6 10,-4.2 C10,-1.6 7.8,0 5,0 C2.6,0 0.9,-0.9 0,-2.6" vector-effect="non-scaling-stroke"/><path transform="translate(809.75,168.05) scale(0.7070)" d="M0.3,-11.5 C0.5,-13.9 2.4,-15 5,-15 C7.6,-15 9.6,-13.7 9.6,-11.2 C9.6,-9 8.2,-7.6 6,-5.8 L0,0 L10,0" vector-effect="non-scaling-stroke"/><path transform="translate(819.65,168.05) scale(0.7070)" d="M0,-15 L10,-15 L3.8,0" vector-effect="non-scaling-stroke"/><path transform="translate(830.45,168.05) scale(0.7070)" d="M9,-13.4 C8.2,-14.5 6.8,-15 5.2,-15 C1.8,-15 0,-11.8 0,-7 C0,-2.3 1.9,0 5,0 C8.1,0 10,-2 10,-4.8 C10,-7.6 8.1,-9.4 5.1,-9.4 C2.5,-9.4 0.5,-7.8 0,-5.4" vector-effect="non-scaling-stroke"/><path transform="translate(840.65,168.05) scale(0.7070)" d="M3.00,-15.00 L7.00,-15.00 L10.00,-10.50 L10.00,-4.50 L7.00,0.00 L3.00,0.00 L0.00,-4.50 L0.00,-10.50 Z" vector-effect="non-scaling-stroke"/><path transform="translate(850.65,168.05) scale(0.7070)" d="M3.00,-15.00 L7.00,-15.00 L10.00,-10.50 L10.00,-4.50 L7.00,0.00 L3.00,0.00 L0.00,-4.50 L0.00,-10.50 Z" vector-effect="non-scaling-stroke"/><path transform="translate(869.65,168.05) scale(0.7070)" d="M7.2,-8.6 C6.7,-9.6 5.4,-10 3.7,-10 C1.7,-10 0.4,-9.1 0.4,-7.5 C0.4,-5.8 2.1,-5.3 3.7,-5 C5.7,-4.6 7.5,-4 7.5,-2.5 C7.5,-0.8 5.9,0 3.7,0 C1.9,0 0.5,-0.5 0,-1.7" vector-effect="non-scaling-stroke"/></g>
<g fill="none" stroke="#000" stroke-width="2.1" stroke-linecap="round" stroke-linejoin="round"><path transform="translate(380.05,545.70) scale(0.9700)" d="M0,-15 L11.6,0 M11.6,-15 L0,0" vector-effect="non-scaling-stroke"/><path transform="translate(406.85,545.70) scale(0.9700)" d="M8.6,-7.8 L6.02,-10 L2.58,-10 L0,-7.0 L0,-3.0 L2.58,0 L6.02,0 L8.6,-2.2" vector-effect="non-scaling-stroke"/><path transform="translate(420.05,545.70) scale(0.9700)" d="M2.76,-10.00 L6.44,-10.00 L9.20,-7.00 L9.20,-3.00 L6.44,0.00 L2.76,0.00 L0.00,-3.00 L0.00,-7.00 Z" vector-effect="non-scaling-stroke"/><path transform="translate(434.45,545.70) scale(0.9700)" d="M2.76,-10.00 L6.44,-10.00 L9.20,-7.00 L9.20,-3.00 L6.44,0.00 L2.76,0.00 L0.00,-3.00 L0.00,-7.00 Z" vector-effect="non-scaling-stroke"/><path transform="translate(448.65,545.70) scale(0.9700)" d="M0,-10 L0,0 M0,-5.5 C0,-8.5 1.7,-10 3.8,-10 L5.5,-10" vector-effect="non-scaling-stroke"/><path transform="translate(458.55,545.70) scale(0.9700)" d="M8.5,-15 L8.5,0 M2.55,-10.00 L5.95,-10.00 L8.50,-7.00 L8.50,-3.00 L5.95,0.00 L2.55,0.00 L0.00,-3.00 L0.00,-7.00 Z" vector-effect="non-scaling-stroke"/><path transform="translate(472.25,545.70) scale(0.9700)" d="M0,-10 L0,0 M-0.6,-12.4 L0,-13.6 L0.6,-12.4 Z" vector-effect="non-scaling-stroke"/><path transform="translate(479.35,545.70) scale(0.9700)" d="M0,-10 L0,0 M0,-6 C0,-8.8 1.7,-10 4,-10 C6.3,-10 8,-8.8 8,-6 L8,0" vector-effect="non-scaling-stroke"/><path transform="translate(492.25,545.70) scale(0.9700)" d="M8.5,-10 L8.5,0 M2.55,-10.00 L5.95,-10.00 L8.50,-7.00 L8.50,-3.00 L5.95,0.00 L2.55,0.00 L0.00,-3.00 L0.00,-7.00 Z" vector-effect="non-scaling-stroke"/><path transform="translate(505.05,545.70) scale(0.9700)" d="M2.4,-15 L2.4,-2.2 C2.4,-0.6 3.2,0 5,0 M0,-10 L5.4,-10" vector-effect="non-scaling-stroke"/><path transform="translate(515.65,545.70) scale(0.9700)" d="M0,-5 L8.8,-5 L8.8,-7.0 L6.16,-10 L2.64,-10 L0,-7.0 L0,-3.0 L2.64,0 L6.16,0 L8.8,-2.2" vector-effect="non-scaling-stroke"/></g>
<g fill="none" stroke="#000" stroke-width="2.1" stroke-linecap="round" stroke-linejoin="round" transform="translate(98.05,766.9) rotate(-90)"><path transform="translate(380.05,0.00) scale(0.9700)" d="M0,-15 L11.6,-15 L0,0 L11.6,0" vector-effect="non-scaling-stroke"/><path transform="translate(406.85,0.00) scale(0.9700)" d="M8.6,-7.8 L6.02,-10 L2.58,-10 L0,-7.0 L0,-3.0 L2.58,0 L6.02,0 L8.6,-2.2" vector-effect="non-scaling-stroke"/><path transform="translate(420.05,0.00) scale(0.9700)" d="M2.76,-10.00 L6.44,-10.00 L9.20,-7.00 L9.20,-3.00 L6.44,0.00 L2.76,0.00 L0.00,-3.00 L0.00,-7.00 Z" vector-effect="non-scaling-stroke"/><path transform="translate(434.45,0.00) scale(0.9700)" d="M2.76,-10.00 L6.44,-10.00 L9.20,-7.00 L9.20,-3.00 L6.44,0.00 L2.76,0.00 L0.00,-3.00 L0.00,-7.00 Z" vector-effect="non-scaling-stroke"/><path transform="translate(448.65,0.00) scale(0.9700)" d="M0,-10 L0,0 M0,-5.5 C0,-8.5 1.7,-10 3.8,-10 L5.5,-10" vector-effect="non-scaling-stroke"/><path transform="translate(458.55,0.00) scale(0.9700)" d="M8.5,-15 L8.5,0 M2.55,-10.00 L5.95,-10.00 L8.50,-7.00 L8.50,-3.00 L5.95,0.00 L2.55,0.00 L0.00,-3.00 L0.00,-7.00 Z" vector-effect="non-scaling-stroke"/><path transform="translate(472.25,0.00) scale(0.9700)" d="M0,-10 L0,0 M-0.6,-12.4 L0,-13.6 L0.6,-12.4 Z" vector-effect="non-scaling-stroke"/><path transform="translate(479.35,0.00) scale(0.9700)" d="M0,-10 L0,0 M0,-6 C0,-8.8 1.7,-10 4,-10 C6.3,-10 8,-8.8 8,-6 L8,0" vector-effect="non-scaling-stroke"/><path transform="translate(492.25,0.00) scale(0.9700)" d="M8.5,-10 L8.5,0 M2.55,-10.00 L5.95,-10.00 L8.50,-7.00 L8.50,-3.00 L5.95,0.00 L2.55,0.00 L0.00,-3.00 L0.00,-7.00 Z" vector-effect="non-scaling-stroke"/><path transform="translate(505.05,0.00) scale(0.9700)" d="M2.4,-15 L2.4,-2.2 C2.4,-0.6 3.2,0 5,0 M0,-10 L5.4,-10" vector-effect="non-scaling-stroke"/><path transform="translate(515.65,0.00) scale(0.9700)" d="M0,-5 L8.8,-5 L8.8,-7.0 L6.16,-10 L2.64,-10 L0,-7.0 L0,-3.0 L2.64,0 L6.16,0 L8.8,-2.2" vector-effect="non-scaling-stroke"/></g>
<g fill="none" stroke="#000" stroke-width="2.0" stroke-linecap="round" stroke-linejoin="round"><path transform="translate(196.15,493.60) scale(0.7130)" d="M0,-12.3 L4.6,-15 L4.6,0" vector-effect="non-scaling-stroke"/></g>
<g fill="none" stroke="#000" stroke-width="2.0" stroke-linecap="round" stroke-linejoin="round"><path transform="translate(257.72,493.60) scale(0.7130)" d="M0.3,-11.5 C0.5,-13.9 2.4,-15 5,-15 C7.6,-15 9.6,-13.7 9.6,-11.2 C9.6,-9 8.2,-7.6 6,-5.8 L0,0 L10,0" vector-effect="non-scaling-stroke"/></g>
<g fill="none" stroke="#000" stroke-width="2.0" stroke-linecap="round" stroke-linejoin="round"><path transform="translate(321.20,493.60) scale(0.7130)" d="M0.4,-13 C1.2,-14.5 2.9,-15 4.9,-15 C7.5,-15 9.2,-13.7 9.2,-11.6 C9.2,-9.5 7.5,-8.2 4.5,-8.2 C8,-8.2 10,-6.6 10,-4.2 C10,-1.6 7.8,0 5,0 C2.6,0 0.9,-0.9 0,-2.6" vector-effect="non-scaling-stroke"/></g>
<g fill="none" stroke="#000" stroke-width="2.0" stroke-linecap="round" stroke-linejoin="round"><path transform="translate(384.69,493.60) scale(0.7130)" d="M7.2,0 L7.2,-15 L0,-4.5 L10,-4.5" vector-effect="non-scaling-stroke"/></g>
<g fill="none" stroke="#000" stroke-width="2.0" stroke-linecap="round" stroke-linejoin="round"><path transform="translate(448.19,493.60) scale(0.7130)" d="M9.4,-15 L1.5,-15 L0.7,-8.6 C1.8,-9.6 3.4,-10 4.9,-10 C8.1,-10 10,-8 10,-5 C10,-2 7.9,0 4.9,0 C2.6,0 0.9,-0.9 0,-2.5" vector-effect="non-scaling-stroke"/></g>
<g fill="none" stroke="#000" stroke-width="2.0" stroke-linecap="round" stroke-linejoin="round"><path transform="translate(511.68,493.60) scale(0.7130)" d="M9,-13.4 C8.2,-14.5 6.8,-15 5.2,-15 C1.8,-15 0,-11.8 0,-7 C0,-2.3 1.9,0 5,0 C8.1,0 10,-2 10,-4.8 C10,-7.6 8.1,-9.4 5.1,-9.4 C2.5,-9.4 0.5,-7.8 0,-5.4" vector-effect="non-scaling-stroke"/></g>
<g fill="none" stroke="#000" stroke-width="2.0" stroke-linecap="round" stroke-linejoin="round"><path transform="translate(575.16,493.60) scale(0.7130)" d="M0,-15 L10,-15 L3.8,0" vector-effect="non-scaling-stroke"/></g>
<g fill="none" stroke="#000" stroke-width="2.0" stroke-linecap="round" stroke-linejoin="round"><path transform="translate(638.65,493.60) scale(0.7130)" d="M3.44,-15.00 L6.56,-15.00 L8.90,-12.78 L8.90,-9.82 L6.56,-7.60 L3.44,-7.60 L1.10,-9.82 L1.10,-12.78 Z M3.00,-7.80 L7.00,-7.80 L10.00,-5.46 L10.00,-2.34 L7.00,0.00 L3.00,0.00 L0.00,-2.34 L0.00,-5.46 Z" vector-effect="non-scaling-stroke"/></g>
<g fill="none" stroke="#000" stroke-width="2.0" stroke-linecap="round" stroke-linejoin="round"><path transform="translate(702.14,493.60) scale(0.7130)" d="M0.9,-1.6 C1.8,-0.5 3.2,0 4.8,0 C8.2,0 10,-3.2 10,-8 C10,-12.7 8.1,-15 5,-15 C1.9,-15 0,-13 0,-10.2 C0,-7.4 1.9,-5.6 4.9,-5.6 C7.5,-5.6 9.5,-7.2 10,-9.6" vector-effect="non-scaling-stroke"/></g>
<g fill="none" stroke="#000" stroke-width="2.0" stroke-linecap="round" stroke-linejoin="round"><path transform="translate(117.87,398.35) scale(0.7130)" d="M0.3,-11.5 C0.5,-13.9 2.4,-15 5,-15 C7.6,-15 9.6,-13.7 9.6,-11.2 C9.6,-9 8.2,-7.6 6,-5.8 L0,0 L10,0" vector-effect="non-scaling-stroke"/></g>
<g fill="none" stroke="#000" stroke-width="2.0" stroke-linecap="round" stroke-linejoin="round"><path transform="translate(117.87,319.45) scale(0.7130)" d="M7.2,0 L7.2,-15 L0,-4.5 L10,-4.5" vector-effect="non-scaling-stroke"/></g>
<g fill="none" stroke="#000" stroke-width="2.0" stroke-linecap="round" stroke-linejoin="round"><path transform="translate(117.87,240.10) scale(0.7130)" d="M9,-13.4 C8.2,-14.5 6.8,-15 5.2,-15 C1.8,-15 0,-11.8 0,-7 C0,-2.3 1.9,0 5,0 C8.1,0 10,-2 10,-4.8 C10,-7.6 8.1,-9.4 5.1,-9.4 C2.5,-9.4 0.5,-7.8 0,-5.4" vector-effect="non-scaling-stroke"/></g>
<g fill="none" stroke="#000" stroke-width="2.0" stroke-linecap="round" stroke-linejoin="round"><path transform="translate(812.00,273.85) scale(0.6600)" d="M3.00,-15.00 L7.00,-15.00 L10.00,-10.50 L10.00,-4.50 L7.00,0.00 L3.00,0.00 L0.00,-4.50 L0.00,-10.50 Z" vector-effect="non-scaling-stroke"/><path transform="translate(822.00,273.85) scale(0.6600)" d="M0.6,-1.4 L0,0" vector-effect="non-scaling-stroke"/><path transform="translate(827.20,273.85) scale(0.6600)" d="M0.4,-13 C1.2,-14.5 2.9,-15 4.9,-15 C7.5,-15 9.2,-13.7 9.2,-11.6 C9.2,-9.5 7.5,-8.2 4.5,-8.2 C8,-8.2 10,-6.6 10,-4.2 C10,-1.6 7.8,0 5,0 C2.6,0 0.9,-0.9 0,-2.6" vector-effect="non-scaling-stroke"/><path transform="translate(837.10,273.85) scale(0.6600)" d="M0.3,-11.5 C0.5,-13.9 2.4,-15 5,-15 C7.6,-15 9.6,-13.7 9.6,-11.2 C9.6,-9 8.2,-7.6 6,-5.8 L0,0 L10,0" vector-effect="non-scaling-stroke"/></g>
<g fill="none" stroke="#000" stroke-width="2.0" stroke-linecap="round" stroke-linejoin="round"><path transform="translate(812.00,319.05) scale(0.6600)" d="M3.00,-15.00 L7.00,-15.00 L10.00,-10.50 L10.00,-4.50 L7.00,0.00 L3.00,0.00 L0.00,-4.50 L0.00,-10.50 Z" vector-effect="non-scaling-stroke"/><path transform="translate(822.00,319.05) scale(0.6600)" d="M0.6,-1.4 L0,0" vector-effect="non-scaling-stroke"/><path transform="translate(827.90,319.05) scale(0.6600)" d="M0,-12.3 L4.6,-15 L4.6,0" vector-effect="non-scaling-stroke"/><path transform="translate(837.20,319.05) scale(0.6600)" d="M9,-13.4 C8.2,-14.5 6.8,-15 5.2,-15 C1.8,-15 0,-11.8 0,-7 C0,-2.3 1.9,0 5,0 C8.1,0 10,-2 10,-4.8 C10,-7.6 8.1,-9.4 5.1,-9.4 C2.5,-9.4 0.5,-7.8 0,-5.4" vector-effect="non-scaling-stroke"/></g>
<g fill="none" stroke="#000" stroke-width="2.0" stroke-linecap="round" stroke-linejoin="round"><path transform="translate(812.00,364.25) scale(0.6600)" d="M3.00,-15.00 L7.00,-15.00 L10.00,-10.50 L10.00,-4.50 L7.00,0.00 L3.00,0.00 L0.00,-4.50 L0.00,-10.50 Z" vector-effect="non-scaling-stroke"/></g>
<g fill="none" stroke="#000" stroke-width="2.0" stroke-linecap="round" stroke-linejoin="round"><path transform="translate(812.00,409.45) scale(0.6600)" d="M0,-7.4 L13.5,-7.4" vector-effect="non-scaling-stroke"/><path transform="translate(824.90,409.45) scale(0.6600)" d="M3.00,-15.00 L7.00,-15.00 L10.00,-10.50 L10.00,-4.50 L7.00,0.00 L3.00,0.00 L0.00,-4.50 L0.00,-10.50 Z" vector-effect="non-scaling-stroke"/><path transform="translate(834.90,409.45) scale(0.6600)" d="M0.6,-1.4 L0,0" vector-effect="non-scaling-stroke"/><path transform="translate(840.80,409.45) scale(0.6600)" d="M0,-12.3 L4.6,-15 L4.6,0" vector-effect="non-scaling-stroke"/><path transform="translate(850.10,409.45) scale(0.6600)" d="M9,-13.4 C8.2,-14.5 6.8,-15 5.2,-15 C1.8,-15 0,-11.8 0,-7 C0,-2.3 1.9,0 5,0 C8.1,0 10,-2 10,-4.8 C10,-7.6 8.1,-9.4 5.1,-9.4 C2.5,-9.4 0.5,-7.8 0,-5.4" vector-effect="non-scaling-stroke"/></g>
<g fill="none" stroke="#000" stroke-width="2.0" stroke-linecap="round" stroke-linejoin="round"><path transform="translate(812.00,454.65) scale(0.6600)" d="M0,-7.4 L13.5,-7.4" vector-effect="non-scaling-stroke"/><path transform="translate(824.90,454.65) scale(0.6600)" d="M3.00,-15.00 L7.00,-15.00 L10.00,-10.50 L10.00,-4.50 L7.00,0.00 L3.00,0.00 L0.00,-4.50 L0.00,-10.50 Z" vector-effect="non-scaling-stroke"/><path transform="translate(834.90,454.65) scale(0.6600)" d="M0.6,-1.4 L0,0" vector-effect="non-scaling-stroke"/><path transform="translate(840.00,454.65) scale(0.6600)" d="M0.4,-13 C1.2,-14.5 2.9,-15 4.9,-15 C7.5,-15 9.2,-13.7 9.2,-11.6 C9.2,-9.5 7.5,-8.2 4.5,-8.2 C8,-8.2 10,-6.6 10,-4.2 C10,-1.6 7.8,0 5,0 C2.6,0 0.9,-0.9 0,-2.6" vector-effect="non-scaling-stroke"/><path transform="translate(849.90,454.65) scale(0.6600)" d="M0.3,-11.5 C0.5,-13.9 2.4,-15 5,-15 C7.6,-15 9.6,-13.7 9.6,-11.2 C9.6,-9 8.2,-7.6 6,-5.8 L0,0 L10,0" vector-effect="non-scaling-stroke"/></g>
</svg>
</body></html>
